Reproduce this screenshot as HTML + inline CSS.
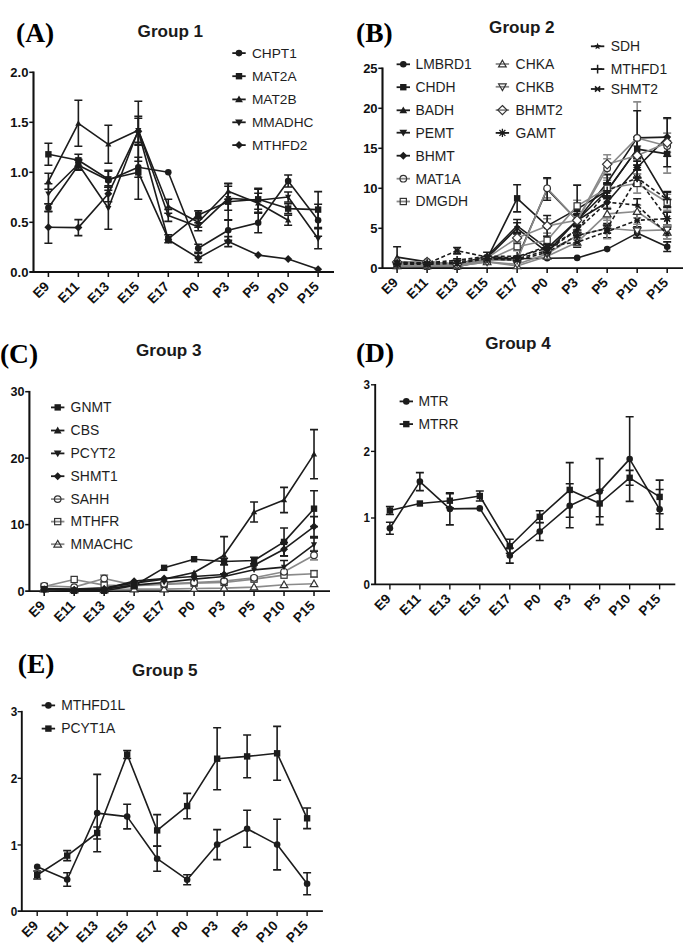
<!DOCTYPE html>
<html><head><meta charset="utf-8"><title>Figure</title>
<style>
html,body{margin:0;padding:0;background:#fff;}
body{width:685px;height:945px;overflow:hidden;font-family:"Liberation Sans",sans-serif;}
svg{display:block;}
</style></head><body>
<svg width="685" height="945" viewBox="0 0 685 945">
<rect width="685" height="945" fill="#fff"/>
<path d="M33.5 71.5L33.5 272" stroke="#111" stroke-width="2.1" fill="none"/>
<path d="M29.3 272L334 272" stroke="#111" stroke-width="1.8" fill="none"/>
<text x="28.4" y="276.7" font-family="'Liberation Sans', sans-serif" font-size="13" font-weight="bold" text-anchor="end" fill="#111">0.0</text>
<path d="M29.3 222.3L33.5 222.3" stroke="#111" stroke-width="1.53"/>
<text x="28.4" y="226.7" font-family="'Liberation Sans', sans-serif" font-size="13" font-weight="bold" text-anchor="end" fill="#111">0.5</text>
<path d="M29.3 172.3L33.5 172.3" stroke="#111" stroke-width="1.53"/>
<text x="28.4" y="176.7" font-family="'Liberation Sans', sans-serif" font-size="13" font-weight="bold" text-anchor="end" fill="#111">1.0</text>
<path d="M29.3 122.3L33.5 122.3" stroke="#111" stroke-width="1.53"/>
<text x="28.4" y="126.7" font-family="'Liberation Sans', sans-serif" font-size="13" font-weight="bold" text-anchor="end" fill="#111">1.5</text>
<path d="M29.3 72.3L33.5 72.3" stroke="#111" stroke-width="1.53"/>
<text x="28.4" y="76.7" font-family="'Liberation Sans', sans-serif" font-size="13" font-weight="bold" text-anchor="end" fill="#111">2.0</text>
<path d="M48.4 272L48.4 277" stroke="#111" stroke-width="1.53"/>
<text x="50.2" y="287.3" font-family="'Liberation Sans', sans-serif" font-size="13.6" font-weight="bold" text-anchor="end" fill="#111" transform="rotate(-45 50.2 287.3)">E9</text>
<path d="M78.37 272L78.37 277" stroke="#111" stroke-width="1.53"/>
<text x="80.17" y="287.3" font-family="'Liberation Sans', sans-serif" font-size="13.6" font-weight="bold" text-anchor="end" fill="#111" transform="rotate(-45 80.17 287.3)">E11</text>
<path d="M108.34 272L108.34 277" stroke="#111" stroke-width="1.53"/>
<text x="110.14" y="287.3" font-family="'Liberation Sans', sans-serif" font-size="13.6" font-weight="bold" text-anchor="end" fill="#111" transform="rotate(-45 110.14 287.3)">E13</text>
<path d="M138.31 272L138.31 277" stroke="#111" stroke-width="1.53"/>
<text x="140.11" y="287.3" font-family="'Liberation Sans', sans-serif" font-size="13.6" font-weight="bold" text-anchor="end" fill="#111" transform="rotate(-45 140.11 287.3)">E15</text>
<path d="M168.28 272L168.28 277" stroke="#111" stroke-width="1.53"/>
<text x="170.08" y="287.3" font-family="'Liberation Sans', sans-serif" font-size="13.6" font-weight="bold" text-anchor="end" fill="#111" transform="rotate(-45 170.08 287.3)">E17</text>
<path d="M198.25 272L198.25 277" stroke="#111" stroke-width="1.53"/>
<text x="200.05" y="287.3" font-family="'Liberation Sans', sans-serif" font-size="13.6" font-weight="bold" text-anchor="end" fill="#111" transform="rotate(-45 200.05 287.3)">P0</text>
<path d="M228.22 272L228.22 277" stroke="#111" stroke-width="1.53"/>
<text x="230.02" y="287.3" font-family="'Liberation Sans', sans-serif" font-size="13.6" font-weight="bold" text-anchor="end" fill="#111" transform="rotate(-45 230.02 287.3)">P3</text>
<path d="M258.19 272L258.19 277" stroke="#111" stroke-width="1.53"/>
<text x="259.99" y="287.3" font-family="'Liberation Sans', sans-serif" font-size="13.6" font-weight="bold" text-anchor="end" fill="#111" transform="rotate(-45 259.99 287.3)">P5</text>
<path d="M288.16 272L288.16 277" stroke="#111" stroke-width="1.53"/>
<text x="289.96" y="287.3" font-family="'Liberation Sans', sans-serif" font-size="13.6" font-weight="bold" text-anchor="end" fill="#111" transform="rotate(-45 289.96 287.3)">P10</text>
<path d="M318.13 272L318.13 277" stroke="#111" stroke-width="1.53"/>
<text x="319.93" y="287.3" font-family="'Liberation Sans', sans-serif" font-size="13.6" font-weight="bold" text-anchor="end" fill="#111" transform="rotate(-45 319.93 287.3)">P15</text>
<path d="M48.4 203.8L48.4 211.8M44.4 203.8L52.4 203.8M44.4 211.8L52.4 211.8" stroke="#1c1c1c" stroke-width="1.6" fill="none"/>
<path d="M78.37 160.3L78.37 170.3M74.37 160.3L82.37 160.3M74.37 170.3L82.37 170.3" stroke="#1c1c1c" stroke-width="1.6" fill="none"/>
<path d="M108.34 170.3L108.34 190.3M104.34 170.3L112.34 170.3M104.34 190.3L112.34 190.3" stroke="#1c1c1c" stroke-width="1.6" fill="none"/>
<path d="M138.31 157.3L138.31 177.3M134.31 157.3L142.31 157.3M134.31 177.3L142.31 177.3" stroke="#1c1c1c" stroke-width="1.6" fill="none"/>
<path d="M198.25 244.3L198.25 252.3M194.25 244.3L202.25 244.3M194.25 252.3L202.25 252.3" stroke="#1c1c1c" stroke-width="1.6" fill="none"/>
<path d="M228.22 220.3L228.22 240.3M224.22 220.3L232.22 220.3M224.22 240.3L232.22 240.3" stroke="#1c1c1c" stroke-width="1.6" fill="none"/>
<path d="M258.19 212.8L258.19 232.8M254.19 212.8L262.19 212.8M254.19 232.8L262.19 232.8" stroke="#1c1c1c" stroke-width="1.6" fill="none"/>
<path d="M288.16 175L288.16 187M284.16 175L292.16 175M284.16 187L292.16 187" stroke="#1c1c1c" stroke-width="1.6" fill="none"/>
<path d="M318.13 204.3L318.13 236.3M314.13 204.3L322.13 204.3M314.13 236.3L322.13 236.3" stroke="#1c1c1c" stroke-width="1.6" fill="none"/>
<path d="M48.4 143.3L48.4 165.3M44.4 143.3L52.4 143.3M44.4 165.3L52.4 165.3" stroke="#1c1c1c" stroke-width="1.6" fill="none"/>
<path d="M78.37 154.3L78.37 166.3M74.37 154.3L82.37 154.3M74.37 166.3L82.37 166.3" stroke="#1c1c1c" stroke-width="1.6" fill="none"/>
<path d="M108.34 171.3L108.34 187.3M104.34 171.3L112.34 171.3M104.34 187.3L112.34 187.3" stroke="#1c1c1c" stroke-width="1.6" fill="none"/>
<path d="M138.31 145.3L138.31 199.3M134.31 145.3L142.31 145.3M134.31 199.3L142.31 199.3" stroke="#1c1c1c" stroke-width="1.6" fill="none"/>
<path d="M168.28 234.8L168.28 242.8M164.28 234.8L172.28 234.8M164.28 242.8L172.28 242.8" stroke="#1c1c1c" stroke-width="1.6" fill="none"/>
<path d="M198.25 210.9L198.25 218.9M194.25 210.9L202.25 210.9M194.25 218.9L202.25 218.9" stroke="#1c1c1c" stroke-width="1.6" fill="none"/>
<path d="M228.22 183.7L228.22 219.7M224.22 183.7L232.22 183.7M224.22 219.7L232.22 219.7" stroke="#1c1c1c" stroke-width="1.6" fill="none"/>
<path d="M258.19 189.3L258.19 209.3M254.19 189.3L262.19 189.3M254.19 209.3L262.19 209.3" stroke="#1c1c1c" stroke-width="1.6" fill="none"/>
<path d="M288.16 203.6L288.16 213.6M284.16 203.6L292.16 203.6M284.16 213.6L292.16 213.6" stroke="#1c1c1c" stroke-width="1.6" fill="none"/>
<path d="M318.13 191.6L318.13 227.6M314.13 191.6L322.13 191.6M314.13 227.6L322.13 227.6" stroke="#1c1c1c" stroke-width="1.6" fill="none"/>
<path d="M48.4 173.3L48.4 189.3M44.4 173.3L52.4 173.3M44.4 189.3L52.4 189.3" stroke="#1c1c1c" stroke-width="1.6" fill="none"/>
<path d="M78.37 100.3L78.37 146.3M74.37 100.3L82.37 100.3M74.37 146.3L82.37 146.3" stroke="#1c1c1c" stroke-width="1.6" fill="none"/>
<path d="M108.34 125.3L108.34 163.3M104.34 125.3L112.34 125.3M104.34 163.3L112.34 163.3" stroke="#1c1c1c" stroke-width="1.6" fill="none"/>
<path d="M138.31 116.3L138.31 144.3M134.31 116.3L142.31 116.3M134.31 144.3L142.31 144.3" stroke="#1c1c1c" stroke-width="1.6" fill="none"/>
<path d="M168.28 199.3L168.28 213.3M164.28 199.3L172.28 199.3M164.28 213.3L172.28 213.3" stroke="#1c1c1c" stroke-width="1.6" fill="none"/>
<path d="M198.25 217.3L198.25 227.3M194.25 217.3L202.25 217.3M194.25 227.3L202.25 227.3" stroke="#1c1c1c" stroke-width="1.6" fill="none"/>
<path d="M228.22 183.3L228.22 199.3M224.22 183.3L232.22 183.3M224.22 199.3L232.22 199.3" stroke="#1c1c1c" stroke-width="1.6" fill="none"/>
<path d="M258.19 193.3L258.19 213.3M254.19 193.3L262.19 193.3M254.19 213.3L262.19 213.3" stroke="#1c1c1c" stroke-width="1.6" fill="none"/>
<path d="M288.16 215.3L288.16 225.3M284.16 215.3L292.16 215.3M284.16 225.3L292.16 225.3" stroke="#1c1c1c" stroke-width="1.6" fill="none"/>
<path d="M48.4 183.7L48.4 203.7M44.4 183.7L52.4 183.7M44.4 203.7L52.4 203.7" stroke="#1c1c1c" stroke-width="1.6" fill="none"/>
<path d="M78.37 159.3L78.37 169.3M74.37 159.3L82.37 159.3M74.37 169.3L82.37 169.3" stroke="#1c1c1c" stroke-width="1.6" fill="none"/>
<path d="M108.34 187.3L108.34 229.3M104.34 187.3L112.34 187.3M104.34 229.3L112.34 229.3" stroke="#1c1c1c" stroke-width="1.6" fill="none"/>
<path d="M138.31 118.3L138.31 142.3M134.31 118.3L142.31 118.3M134.31 142.3L142.31 142.3" stroke="#1c1c1c" stroke-width="1.6" fill="none"/>
<path d="M168.28 209.4L168.28 221.4M164.28 209.4L172.28 209.4M164.28 221.4L172.28 221.4" stroke="#1c1c1c" stroke-width="1.6" fill="none"/>
<path d="M198.25 222.7L198.25 230.7M194.25 222.7L202.25 222.7M194.25 230.7L202.25 230.7" stroke="#1c1c1c" stroke-width="1.6" fill="none"/>
<path d="M228.22 186.3L228.22 210.3M224.22 186.3L232.22 186.3M224.22 210.3L232.22 210.3" stroke="#1c1c1c" stroke-width="1.6" fill="none"/>
<path d="M258.19 188.3L258.19 212.3M254.19 188.3L262.19 188.3M254.19 212.3L262.19 212.3" stroke="#1c1c1c" stroke-width="1.6" fill="none"/>
<path d="M288.16 192L288.16 202M284.16 192L292.16 192M284.16 202L292.16 202" stroke="#1c1c1c" stroke-width="1.6" fill="none"/>
<path d="M318.13 228.8L318.13 248.8M314.13 228.8L322.13 228.8M314.13 248.8L322.13 248.8" stroke="#1c1c1c" stroke-width="1.6" fill="none"/>
<path d="M48.4 211.3L48.4 243.3M44.4 211.3L52.4 211.3M44.4 243.3L52.4 243.3" stroke="#1c1c1c" stroke-width="1.6" fill="none"/>
<path d="M78.37 219.6L78.37 235.6M74.37 219.6L82.37 219.6M74.37 235.6L82.37 235.6" stroke="#1c1c1c" stroke-width="1.6" fill="none"/>
<path d="M108.34 185.7L108.34 201.7M104.34 185.7L112.34 185.7M104.34 201.7L112.34 201.7" stroke="#1c1c1c" stroke-width="1.6" fill="none"/>
<path d="M138.31 101.3L138.31 161.3M134.31 101.3L142.31 101.3M134.31 161.3L142.31 161.3" stroke="#1c1c1c" stroke-width="1.6" fill="none"/>
<path d="M198.25 253.5L198.25 262.5M194.25 253.5L202.25 253.5M194.25 262.5L202.25 262.5" stroke="#1c1c1c" stroke-width="1.6" fill="none"/>
<path d="M228.22 236.6L228.22 246.6M224.22 236.6L232.22 236.6M224.22 246.6L232.22 246.6" stroke="#1c1c1c" stroke-width="1.6" fill="none"/>
<path d="M48.4 207.8L78.37 165.3L108.34 180.3L138.31 167.3L168.28 172.3L198.25 248.3L228.22 230.3L258.19 222.8L288.16 181L318.13 220.3" stroke="#1c1c1c" stroke-width="1.6" fill="none" stroke-linejoin="round"/>
<path d="M48.4 154.3L78.37 160.3L108.34 179.3L138.31 172.3L168.28 238.8L198.25 214.9L228.22 201.7L258.19 199.3L288.16 208.6L318.13 209.6" stroke="#1c1c1c" stroke-width="1.6" fill="none" stroke-linejoin="round"/>
<path d="M48.4 181.3L78.37 123.3L108.34 144.3L138.31 130.3L168.28 206.3L198.25 222.3L228.22 191.3L258.19 203.3L288.16 220.3" stroke="#1c1c1c" stroke-width="1.6" fill="none" stroke-linejoin="round"/>
<path d="M48.4 193.7L78.37 164.3L108.34 208.3L138.31 130.3L168.28 215.4L198.25 226.7L228.22 198.3L258.19 200.3L288.16 197L318.13 238.8" stroke="#1c1c1c" stroke-width="1.6" fill="none" stroke-linejoin="round"/>
<path d="M48.4 227.3L78.37 227.6L108.34 193.7L138.31 131.3L168.28 239.8L198.25 258L228.22 241.6L258.19 255.1L288.16 259L318.13 269.3" stroke="#1c1c1c" stroke-width="1.6" fill="none" stroke-linejoin="round"/>
<circle cx="48.4" cy="207.8" r="3.3" fill="#1c1c1c"/>
<circle cx="78.37" cy="165.3" r="3.3" fill="#1c1c1c"/>
<circle cx="108.34" cy="180.3" r="3.3" fill="#1c1c1c"/>
<circle cx="138.31" cy="167.3" r="3.3" fill="#1c1c1c"/>
<circle cx="168.28" cy="172.3" r="3.3" fill="#1c1c1c"/>
<circle cx="198.25" cy="248.3" r="3.3" fill="#1c1c1c"/>
<circle cx="228.22" cy="230.3" r="3.3" fill="#1c1c1c"/>
<circle cx="258.19" cy="222.8" r="3.3" fill="#1c1c1c"/>
<circle cx="288.16" cy="181" r="3.3" fill="#1c1c1c"/>
<circle cx="318.13" cy="220.3" r="3.3" fill="#1c1c1c"/>
<rect x="45.2" y="151.1" width="6.4" height="6.4" fill="#1c1c1c"/>
<rect x="75.17" y="157.1" width="6.4" height="6.4" fill="#1c1c1c"/>
<rect x="105.14" y="176.1" width="6.4" height="6.4" fill="#1c1c1c"/>
<rect x="135.11" y="169.1" width="6.4" height="6.4" fill="#1c1c1c"/>
<rect x="165.08" y="235.6" width="6.4" height="6.4" fill="#1c1c1c"/>
<rect x="195.05" y="211.7" width="6.4" height="6.4" fill="#1c1c1c"/>
<rect x="225.02" y="198.5" width="6.4" height="6.4" fill="#1c1c1c"/>
<rect x="254.99" y="196.1" width="6.4" height="6.4" fill="#1c1c1c"/>
<rect x="284.96" y="205.4" width="6.4" height="6.4" fill="#1c1c1c"/>
<rect x="314.93" y="206.4" width="6.4" height="6.4" fill="#1c1c1c"/>
<path d="M48.4 178.2L51.5 183.62L45.3 183.62Z" fill="#1c1c1c"/>
<path d="M78.37 120.2L81.47 125.63L75.27 125.63Z" fill="#1c1c1c"/>
<path d="M108.34 141.2L111.44 146.62L105.24 146.62Z" fill="#1c1c1c"/>
<path d="M138.31 127.2L141.41 132.62L135.21 132.62Z" fill="#1c1c1c"/>
<path d="M168.28 203.2L171.38 208.62L165.18 208.62Z" fill="#1c1c1c"/>
<path d="M198.25 219.2L201.35 224.62L195.15 224.62Z" fill="#1c1c1c"/>
<path d="M228.22 188.2L231.32 193.62L225.12 193.62Z" fill="#1c1c1c"/>
<path d="M258.19 200.2L261.29 205.62L255.09 205.62Z" fill="#1c1c1c"/>
<path d="M288.16 217.2L291.26 222.62L285.06 222.62Z" fill="#1c1c1c"/>
<path d="M48.4 196.8L51.5 191.38L45.3 191.38Z" fill="#1c1c1c"/>
<path d="M78.37 167.4L81.47 161.98L75.27 161.98Z" fill="#1c1c1c"/>
<path d="M108.34 211.4L111.44 205.98L105.24 205.98Z" fill="#1c1c1c"/>
<path d="M138.31 133.4L141.41 127.98L135.21 127.98Z" fill="#1c1c1c"/>
<path d="M168.28 218.5L171.38 213.08L165.18 213.08Z" fill="#1c1c1c"/>
<path d="M198.25 229.8L201.35 224.38L195.15 224.38Z" fill="#1c1c1c"/>
<path d="M228.22 201.4L231.32 195.98L225.12 195.98Z" fill="#1c1c1c"/>
<path d="M258.19 203.4L261.29 197.98L255.09 197.98Z" fill="#1c1c1c"/>
<path d="M288.16 200.1L291.26 194.68L285.06 194.68Z" fill="#1c1c1c"/>
<path d="M318.13 241.9L321.23 236.48L315.03 236.48Z" fill="#1c1c1c"/>
<path d="M48.4 223.3L52.4 227.3L48.4 231.3L44.4 227.3Z" fill="#1c1c1c"/>
<path d="M78.37 223.6L82.37 227.6L78.37 231.6L74.37 227.6Z" fill="#1c1c1c"/>
<path d="M108.34 189.7L112.34 193.7L108.34 197.7L104.34 193.7Z" fill="#1c1c1c"/>
<path d="M138.31 127.3L142.31 131.3L138.31 135.3L134.31 131.3Z" fill="#1c1c1c"/>
<path d="M168.28 235.8L172.28 239.8L168.28 243.8L164.28 239.8Z" fill="#1c1c1c"/>
<path d="M198.25 254L202.25 258L198.25 262L194.25 258Z" fill="#1c1c1c"/>
<path d="M228.22 237.6L232.22 241.6L228.22 245.6L224.22 241.6Z" fill="#1c1c1c"/>
<path d="M258.19 251.1L262.19 255.1L258.19 259.1L254.19 255.1Z" fill="#1c1c1c"/>
<path d="M288.16 255L292.16 259L288.16 263L284.16 259Z" fill="#1c1c1c"/>
<path d="M318.13 265.3L322.13 269.3L318.13 273.3L314.13 269.3Z" fill="#1c1c1c"/>
<path d="M232.3 53.1L245.7 53.1" stroke="#1c1c1c" stroke-width="1.8"/>
<circle cx="239" cy="53.1" r="3.3" fill="#1c1c1c"/>
<text x="251.9" y="57.9" font-family="'Liberation Sans', sans-serif" font-size="13.7" font-weight="normal" text-anchor="start" fill="#1e1e1e">CHPT1</text>
<path d="M232.3 76.2L245.7 76.2" stroke="#1c1c1c" stroke-width="1.8"/>
<rect x="235.8" y="73" width="6.4" height="6.4" fill="#1c1c1c"/>
<text x="251.9" y="81" font-family="'Liberation Sans', sans-serif" font-size="13.7" font-weight="normal" text-anchor="start" fill="#1e1e1e">MAT2A</text>
<path d="M232.3 99.4L245.7 99.4" stroke="#1c1c1c" stroke-width="1.8"/>
<path d="M239 95.53L242.88 102.31L235.12 102.31Z" fill="#1c1c1c"/>
<text x="251.9" y="104.2" font-family="'Liberation Sans', sans-serif" font-size="13.7" font-weight="normal" text-anchor="start" fill="#1e1e1e">MAT2B</text>
<path d="M232.3 122.3L245.7 122.3" stroke="#1c1c1c" stroke-width="1.8"/>
<path d="M239 126.17L242.88 119.39L235.12 119.39Z" fill="#1c1c1c"/>
<text x="251.9" y="127.1" font-family="'Liberation Sans', sans-serif" font-size="13.7" font-weight="normal" text-anchor="start" fill="#1e1e1e">MMADHC</text>
<path d="M232.3 145.1L245.7 145.1" stroke="#1c1c1c" stroke-width="1.8"/>
<path d="M239 141.1L243 145.1L239 149.1L235 145.1Z" fill="#1c1c1c"/>
<text x="251.9" y="149.9" font-family="'Liberation Sans', sans-serif" font-size="13.7" font-weight="normal" text-anchor="start" fill="#1e1e1e">MTHFD2</text>
<text x="137.6" y="37.2" font-family="'Liberation Sans', sans-serif" font-size="17.1" font-weight="bold" text-anchor="start" fill="#1a1a1a">Group 1</text>
<text x="16" y="41.6" font-family="'Liberation Serif', serif" font-size="27.5" font-weight="bold" text-anchor="start" fill="#000">(A)</text>
<path d="M382.5 67.5L382.5 268.1" stroke="#111" stroke-width="2.1" fill="none"/>
<path d="M378.3 268.1L683 268.1" stroke="#111" stroke-width="1.8" fill="none"/>
<text x="377.6" y="272.7" font-family="'Liberation Sans', sans-serif" font-size="13" font-weight="bold" text-anchor="end" fill="#111">0</text>
<path d="M378.3 228.3L382.5 228.3" stroke="#111" stroke-width="1.53"/>
<text x="377.6" y="232.7" font-family="'Liberation Sans', sans-serif" font-size="13" font-weight="bold" text-anchor="end" fill="#111">5</text>
<path d="M378.3 188.3L382.5 188.3" stroke="#111" stroke-width="1.53"/>
<text x="377.6" y="192.7" font-family="'Liberation Sans', sans-serif" font-size="13" font-weight="bold" text-anchor="end" fill="#111">10</text>
<path d="M378.3 148.3L382.5 148.3" stroke="#111" stroke-width="1.53"/>
<text x="377.6" y="152.7" font-family="'Liberation Sans', sans-serif" font-size="13" font-weight="bold" text-anchor="end" fill="#111">15</text>
<path d="M378.3 108.3L382.5 108.3" stroke="#111" stroke-width="1.53"/>
<text x="377.6" y="112.7" font-family="'Liberation Sans', sans-serif" font-size="13" font-weight="bold" text-anchor="end" fill="#111">20</text>
<path d="M378.3 68.3L382.5 68.3" stroke="#111" stroke-width="1.53"/>
<text x="377.6" y="72.7" font-family="'Liberation Sans', sans-serif" font-size="13" font-weight="bold" text-anchor="end" fill="#111">25</text>
<path d="M397.1 268.1L397.1 273.1" stroke="#111" stroke-width="1.53"/>
<text x="398.9" y="283.4" font-family="'Liberation Sans', sans-serif" font-size="13.6" font-weight="bold" text-anchor="end" fill="#111" transform="rotate(-45 398.9 283.4)">E9</text>
<path d="M427.11 268.1L427.11 273.1" stroke="#111" stroke-width="1.53"/>
<text x="428.91" y="283.4" font-family="'Liberation Sans', sans-serif" font-size="13.6" font-weight="bold" text-anchor="end" fill="#111" transform="rotate(-45 428.91 283.4)">E11</text>
<path d="M457.12 268.1L457.12 273.1" stroke="#111" stroke-width="1.53"/>
<text x="458.92" y="283.4" font-family="'Liberation Sans', sans-serif" font-size="13.6" font-weight="bold" text-anchor="end" fill="#111" transform="rotate(-45 458.92 283.4)">E13</text>
<path d="M487.13 268.1L487.13 273.1" stroke="#111" stroke-width="1.53"/>
<text x="488.93" y="283.4" font-family="'Liberation Sans', sans-serif" font-size="13.6" font-weight="bold" text-anchor="end" fill="#111" transform="rotate(-45 488.93 283.4)">E15</text>
<path d="M517.14 268.1L517.14 273.1" stroke="#111" stroke-width="1.53"/>
<text x="518.94" y="283.4" font-family="'Liberation Sans', sans-serif" font-size="13.6" font-weight="bold" text-anchor="end" fill="#111" transform="rotate(-45 518.94 283.4)">E17</text>
<path d="M547.15 268.1L547.15 273.1" stroke="#111" stroke-width="1.53"/>
<text x="548.95" y="283.4" font-family="'Liberation Sans', sans-serif" font-size="13.6" font-weight="bold" text-anchor="end" fill="#111" transform="rotate(-45 548.95 283.4)">P0</text>
<path d="M577.16 268.1L577.16 273.1" stroke="#111" stroke-width="1.53"/>
<text x="578.96" y="283.4" font-family="'Liberation Sans', sans-serif" font-size="13.6" font-weight="bold" text-anchor="end" fill="#111" transform="rotate(-45 578.96 283.4)">P3</text>
<path d="M607.17 268.1L607.17 273.1" stroke="#111" stroke-width="1.53"/>
<text x="608.97" y="283.4" font-family="'Liberation Sans', sans-serif" font-size="13.6" font-weight="bold" text-anchor="end" fill="#111" transform="rotate(-45 608.97 283.4)">P5</text>
<path d="M637.18 268.1L637.18 273.1" stroke="#111" stroke-width="1.53"/>
<text x="638.98" y="283.4" font-family="'Liberation Sans', sans-serif" font-size="13.6" font-weight="bold" text-anchor="end" fill="#111" transform="rotate(-45 638.98 283.4)">P10</text>
<path d="M667.19 268.1L667.19 273.1" stroke="#111" stroke-width="1.53"/>
<text x="668.99" y="283.4" font-family="'Liberation Sans', sans-serif" font-size="13.6" font-weight="bold" text-anchor="end" fill="#111" transform="rotate(-45 668.99 283.4)">P15</text>
<path d="M667.19 212.3L667.19 225.1M663.19 212.3L671.19 212.3M663.19 225.1L671.19 225.1" stroke="#1c1c1c" stroke-width="1.6" fill="none"/>
<path d="M637.18 213.9L637.18 226.7M633.18 213.9L641.18 213.9M633.18 226.7L641.18 226.7" stroke="#1c1c1c" stroke-width="1.6" fill="none"/>
<path d="M607.17 225.1L607.17 237.9M603.17 225.1L611.17 225.1M603.17 237.9L611.17 237.9" stroke="#1c1c1c" stroke-width="1.6" fill="none"/>
<path d="M577.16 237.5L577.16 247.1M573.16 237.5L581.16 237.5M573.16 247.1L581.16 247.1" stroke="#1c1c1c" stroke-width="1.6" fill="none"/>
<path d="M457.12 247.5L457.12 253.9M453.12 247.5L461.12 247.5M453.12 253.9L461.12 253.9" stroke="#1c1c1c" stroke-width="1.6" fill="none"/>
<path d="M667.19 192.3L667.19 206.7M663.19 192.3L671.19 192.3M663.19 206.7L671.19 206.7" stroke="#1c1c1c" stroke-width="1.6" fill="none"/>
<path d="M637.18 169.9L637.18 185.9M633.18 169.9L641.18 169.9M633.18 185.9L641.18 185.9" stroke="#1c1c1c" stroke-width="1.6" fill="none"/>
<path d="M607.17 183.5L607.17 197.9M603.17 183.5L611.17 183.5M603.17 197.9L611.17 197.9" stroke="#1c1c1c" stroke-width="1.6" fill="none"/>
<path d="M577.16 225.1L577.16 234.7M573.16 225.1L581.16 225.1M573.16 234.7L581.16 234.7" stroke="#1c1c1c" stroke-width="1.6" fill="none"/>
<path d="M667.19 229.1L667.19 238.7M663.19 229.1L671.19 229.1M663.19 238.7L671.19 238.7" stroke="#1c1c1c" stroke-width="1.6" fill="none"/>
<path d="M637.18 198.7L637.18 211.5M633.18 198.7L641.18 198.7M633.18 211.5L641.18 211.5" stroke="#1c1c1c" stroke-width="1.6" fill="none"/>
<path d="M607.17 195.9L607.17 208.7M603.17 195.9L611.17 195.9M603.17 208.7L611.17 208.7" stroke="#1c1c1c" stroke-width="1.6" fill="none"/>
<path d="M577.16 225.9L577.16 233.9M573.16 225.9L581.16 225.9M573.16 233.9L581.16 233.9" stroke="#1c1c1c" stroke-width="1.6" fill="none"/>
<path d="M547.15 247.5L547.15 253.9M543.15 247.5L551.15 247.5M543.15 253.9L551.15 253.9" stroke="#1c1c1c" stroke-width="1.6" fill="none"/>
<path d="M457.12 258.7L457.12 265.1M453.12 258.7L461.12 258.7M453.12 265.1L461.12 265.1" stroke="#1c1c1c" stroke-width="1.6" fill="none"/>
<path d="M667.19 212.3L667.19 225.1M663.19 212.3L671.19 212.3M663.19 225.1L671.19 225.1" stroke="#1c1c1c" stroke-width="1.6" fill="none"/>
<path d="M637.18 169.9L637.18 185.9M633.18 169.9L641.18 169.9M633.18 185.9L641.18 185.9" stroke="#1c1c1c" stroke-width="1.6" fill="none"/>
<path d="M607.17 223.5L607.17 233.1M603.17 223.5L611.17 223.5M603.17 233.1L611.17 233.1" stroke="#1c1c1c" stroke-width="1.6" fill="none"/>
<path d="M577.16 231.5L577.16 239.5M573.16 231.5L581.16 231.5M573.16 239.5L581.16 239.5" stroke="#1c1c1c" stroke-width="1.6" fill="none"/>
<path d="M667.19 133.1L667.19 152.3M663.19 133.1L671.19 133.1M663.19 152.3L671.19 152.3" stroke="#8a8a8a" stroke-width="1.6" fill="none"/>
<path d="M637.18 145.9L637.18 165.1M633.18 145.9L641.18 145.9M633.18 165.1L641.18 165.1" stroke="#8a8a8a" stroke-width="1.6" fill="none"/>
<path d="M607.17 154.7L607.17 173.9M603.17 154.7L611.17 154.7M603.17 173.9L611.17 173.9" stroke="#8a8a8a" stroke-width="1.6" fill="none"/>
<path d="M577.16 214.7L577.16 225.9M573.16 214.7L581.16 214.7M573.16 225.9L581.16 225.9" stroke="#8a8a8a" stroke-width="1.6" fill="none"/>
<path d="M547.15 218.7L547.15 233.1M543.15 218.7L551.15 218.7M543.15 233.1L551.15 233.1" stroke="#8a8a8a" stroke-width="1.6" fill="none"/>
<path d="M517.14 233.9L517.14 241.9M513.14 233.9L521.14 233.9M513.14 241.9L521.14 241.9" stroke="#8a8a8a" stroke-width="1.6" fill="none"/>
<path d="M667.19 225.1L667.19 234.7M663.19 225.1L671.19 225.1M663.19 234.7L671.19 234.7" stroke="#8a8a8a" stroke-width="1.6" fill="none"/>
<path d="M637.18 224.3L637.18 237.1M633.18 224.3L641.18 224.3M633.18 237.1L641.18 237.1" stroke="#8a8a8a" stroke-width="1.6" fill="none"/>
<path d="M607.17 217.9L607.17 238.7M603.17 217.9L611.17 217.9M603.17 238.7L611.17 238.7" stroke="#8a8a8a" stroke-width="1.6" fill="none"/>
<path d="M577.16 231.5L577.16 239.5M573.16 231.5L581.16 231.5M573.16 239.5L581.16 239.5" stroke="#8a8a8a" stroke-width="1.6" fill="none"/>
<path d="M667.19 225.9L667.19 238.7M663.19 225.9L671.19 225.9M663.19 238.7L671.19 238.7" stroke="#8a8a8a" stroke-width="1.6" fill="none"/>
<path d="M637.18 205.1L637.18 217.9M633.18 205.1L641.18 205.1M633.18 217.9L641.18 217.9" stroke="#8a8a8a" stroke-width="1.6" fill="none"/>
<path d="M607.17 207.5L607.17 220.3M603.17 207.5L611.17 207.5M603.17 220.3L611.17 220.3" stroke="#8a8a8a" stroke-width="1.6" fill="none"/>
<path d="M577.16 238.3L577.16 246.3M573.16 238.3L581.16 238.3M573.16 246.3L581.16 246.3" stroke="#8a8a8a" stroke-width="1.6" fill="none"/>
<path d="M667.19 194.3L667.19 210.3M663.19 194.3L671.19 194.3M663.19 210.3L671.19 210.3" stroke="#8a8a8a" stroke-width="1.6" fill="none"/>
<path d="M637.18 173.9L637.18 193.1M633.18 173.9L641.18 173.9M633.18 193.1L641.18 193.1" stroke="#8a8a8a" stroke-width="1.6" fill="none"/>
<path d="M607.17 180.3L607.17 196.3M603.17 180.3L611.17 180.3M603.17 196.3L611.17 196.3" stroke="#8a8a8a" stroke-width="1.6" fill="none"/>
<path d="M577.16 200.3L577.16 211.5M573.16 200.3L581.16 200.3M573.16 211.5L581.16 211.5" stroke="#8a8a8a" stroke-width="1.6" fill="none"/>
<path d="M547.15 236.3L547.15 244.3M543.15 236.3L551.15 236.3M543.15 244.3L551.15 244.3" stroke="#8a8a8a" stroke-width="1.6" fill="none"/>
<path d="M517.14 242.7L517.14 250.7M513.14 242.7L521.14 242.7M513.14 250.7L521.14 250.7" stroke="#8a8a8a" stroke-width="1.6" fill="none"/>
<path d="M667.19 118.7L667.19 173.1M663.19 118.7L671.19 118.7M663.19 173.1L671.19 173.1" stroke="#8a8a8a" stroke-width="1.6" fill="none"/>
<path d="M637.18 101.9L637.18 173.9M633.18 101.9L641.18 101.9M633.18 173.9L641.18 173.9" stroke="#8a8a8a" stroke-width="1.6" fill="none"/>
<path d="M607.17 158.7L607.17 177.9M603.17 158.7L611.17 158.7M603.17 177.9L611.17 177.9" stroke="#8a8a8a" stroke-width="1.6" fill="none"/>
<path d="M577.16 215.5L577.16 225.1M573.16 215.5L581.16 215.5M573.16 225.1L581.16 225.1" stroke="#8a8a8a" stroke-width="1.6" fill="none"/>
<path d="M547.15 178.7L547.15 197.9M543.15 178.7L551.15 178.7M543.15 197.9L551.15 197.9" stroke="#8a8a8a" stroke-width="1.6" fill="none"/>
<path d="M637.18 157.9L637.18 177.1M633.18 157.9L641.18 157.9M633.18 177.1L641.18 177.1" stroke="#1c1c1c" stroke-width="1.6" fill="none"/>
<path d="M607.17 195.9L607.17 208.7M603.17 195.9L611.17 195.9M603.17 208.7L611.17 208.7" stroke="#1c1c1c" stroke-width="1.6" fill="none"/>
<path d="M577.16 215.5L577.16 225.1M573.16 215.5L581.16 215.5M573.16 225.1L581.16 225.1" stroke="#1c1c1c" stroke-width="1.6" fill="none"/>
<path d="M547.15 177.9L547.15 200.3M543.15 177.9L551.15 177.9M543.15 200.3L551.15 200.3" stroke="#1c1c1c" stroke-width="1.6" fill="none"/>
<path d="M667.19 191.5L667.19 207.5M663.19 191.5L671.19 191.5M663.19 207.5L671.19 207.5" stroke="#1c1c1c" stroke-width="1.6" fill="none"/>
<path d="M637.18 139.5L637.18 158.7M633.18 139.5L641.18 139.5M633.18 158.7L641.18 158.7" stroke="#1c1c1c" stroke-width="1.6" fill="none"/>
<path d="M607.17 184.3L607.17 197.1M603.17 184.3L611.17 184.3M603.17 197.1L611.17 197.1" stroke="#1c1c1c" stroke-width="1.6" fill="none"/>
<path d="M577.16 214.7L577.16 225.9M573.16 214.7L581.16 214.7M573.16 225.9L581.16 225.9" stroke="#1c1c1c" stroke-width="1.6" fill="none"/>
<path d="M517.14 222.7L517.14 233.9M513.14 222.7L521.14 222.7M513.14 233.9L521.14 233.9" stroke="#1c1c1c" stroke-width="1.6" fill="none"/>
<path d="M667.19 117.9L667.19 156.3M663.19 117.9L671.19 117.9M663.19 156.3L671.19 156.3" stroke="#1c1c1c" stroke-width="1.6" fill="none"/>
<path d="M637.18 110.7L637.18 165.1M633.18 110.7L641.18 110.7M633.18 165.1L641.18 165.1" stroke="#1c1c1c" stroke-width="1.6" fill="none"/>
<path d="M607.17 174.7L607.17 190.7M603.17 174.7L611.17 174.7M603.17 190.7L611.17 190.7" stroke="#1c1c1c" stroke-width="1.6" fill="none"/>
<path d="M577.16 213.9L577.16 226.7M573.16 213.9L581.16 213.9M573.16 226.7L581.16 226.7" stroke="#1c1c1c" stroke-width="1.6" fill="none"/>
<path d="M547.15 244.3L547.15 252.3M543.15 244.3L551.15 244.3M543.15 252.3L551.15 252.3" stroke="#1c1c1c" stroke-width="1.6" fill="none"/>
<path d="M517.14 219.5L517.14 232.3M513.14 219.5L521.14 219.5M513.14 232.3L521.14 232.3" stroke="#1c1c1c" stroke-width="1.6" fill="none"/>
<path d="M487.13 252.3L487.13 260.3M483.13 252.3L491.13 252.3M483.13 260.3L491.13 260.3" stroke="#1c1c1c" stroke-width="1.6" fill="none"/>
<path d="M397.1 246.7L397.1 267.5M393.1 246.7L401.1 246.7M393.1 267.5L401.1 267.5" stroke="#1c1c1c" stroke-width="1.6" fill="none"/>
<path d="M667.19 141.1L667.19 166.7M663.19 141.1L671.19 141.1M663.19 166.7L671.19 166.7" stroke="#1c1c1c" stroke-width="1.6" fill="none"/>
<path d="M637.18 137.1L637.18 161.1M633.18 137.1L641.18 137.1M633.18 161.1L641.18 161.1" stroke="#1c1c1c" stroke-width="1.6" fill="none"/>
<path d="M607.17 182.7L607.17 198.7M603.17 182.7L611.17 182.7M603.17 198.7L611.17 198.7" stroke="#1c1c1c" stroke-width="1.6" fill="none"/>
<path d="M577.16 185.1L577.16 233.1M573.16 185.1L581.16 185.1M573.16 233.1L581.16 233.1" stroke="#1c1c1c" stroke-width="1.6" fill="none"/>
<path d="M547.15 215.5L547.15 236.3M543.15 215.5L551.15 215.5M543.15 236.3L551.15 236.3" stroke="#1c1c1c" stroke-width="1.6" fill="none"/>
<path d="M517.14 184.7L517.14 211.9M513.14 184.7L521.14 184.7M513.14 211.9L521.14 211.9" stroke="#1c1c1c" stroke-width="1.6" fill="none"/>
<path d="M667.19 241.9L667.19 251.5M663.19 241.9L671.19 241.9M663.19 251.5L671.19 251.5" stroke="#1c1c1c" stroke-width="1.6" fill="none"/>
<path d="M637.18 228.3L637.18 237.9M633.18 228.3L641.18 228.3M633.18 237.9L641.18 237.9" stroke="#1c1c1c" stroke-width="1.6" fill="none"/>
<path d="M397.1 264.3L427.11 265.9L457.12 266.7L487.13 260.3L517.14 258.7L547.15 258.3L577.16 257.9L607.17 249.1L637.18 233.1L667.19 246.7" stroke="#1c1c1c" stroke-width="1.6" fill="none" stroke-linejoin="round"/>
<path d="M397.1 265.9L427.11 266.7L457.12 266.7L487.13 258.7L517.14 198.3L547.15 225.9L577.16 209.1L607.17 190.7L637.18 149.1L667.19 153.9" stroke="#1c1c1c" stroke-width="1.6" fill="none" stroke-linejoin="round"/>
<path d="M397.1 257.1L427.11 261.9L457.12 264.3L487.13 256.3L517.14 225.9L547.15 248.3L577.16 220.3L607.17 182.7L637.18 137.9L667.19 137.1" stroke="#1c1c1c" stroke-width="1.6" fill="none" stroke-linejoin="round"/>
<path d="M397.1 261.9L427.11 264.3L457.12 265.9L487.13 257.9L517.14 228.3L547.15 252.3L577.16 220.3L607.17 190.7L637.18 149.1L667.19 199.5" stroke="#1c1c1c" stroke-width="1.6" fill="none" stroke-linejoin="round"/>
<path d="M397.1 263.5L427.11 265.1L457.12 265.9L487.13 257.9L517.14 258.7L547.15 189.1L577.16 220.3L607.17 202.3L637.18 167.5L667.19 137.1" stroke="#1c1c1c" stroke-width="1.6" fill="none" stroke-linejoin="round"/>
<path d="M397.1 264.3L427.11 261.9L457.12 265.1L487.13 260.3L517.14 260.3L547.15 188.3L577.16 220.3L607.17 168.3L637.18 137.9L667.19 145.9" stroke="#8a8a8a" stroke-width="1.6" fill="none" stroke-linejoin="round"/>
<path d="M397.1 264.3L427.11 264.3L457.12 264.3L487.13 260.3L517.14 246.7L547.15 240.3L577.16 205.9L607.17 188.3L637.18 183.5L667.19 202.3" stroke="#8a8a8a" stroke-width="1.6" fill="none" stroke-linejoin="round"/>
<path d="M397.1 265.9L427.11 265.9L457.12 265.9L487.13 261.9L517.14 265.9L547.15 256.3L577.16 242.3L607.17 213.9L637.18 211.5L667.19 232.3" stroke="#8a8a8a" stroke-width="1.6" fill="none" stroke-linejoin="round"/>
<path d="M397.1 265.9L427.11 265.9L457.12 265.9L487.13 261.9L517.14 264.3L547.15 253.9L577.16 235.5L607.17 228.3L637.18 230.7L667.19 229.9" stroke="#8a8a8a" stroke-width="1.6" fill="none" stroke-linejoin="round"/>
<path d="M397.1 261.9L427.11 261.9L457.12 264.3L487.13 257.9L517.14 237.9L547.15 225.9L577.16 220.3L607.17 164.3L637.18 155.5L667.19 142.7" stroke="#8a8a8a" stroke-width="1.6" fill="none" stroke-linejoin="round"/>
<path d="M397.1 264.3L427.11 264.3L457.12 263.5L487.13 258.7L517.14 260.3L547.15 252.3L577.16 235.5L607.17 228.3L637.18 177.9L667.19 218.7" stroke="#1c1c1c" stroke-width="1.6" fill="none" stroke-linejoin="round" stroke-dasharray="4 2.5"/>
<path d="M397.1 261.9L427.11 263.5L457.12 261.9L487.13 257.9L517.14 258.7L547.15 250.7L577.16 229.9L607.17 202.3L637.18 205.1L667.19 233.9" stroke="#1c1c1c" stroke-width="1.6" fill="none" stroke-linejoin="round" stroke-dasharray="4 2.5"/>
<path d="M397.1 263.5L427.11 262.7L457.12 260.3L487.13 256.3L517.14 256.3L547.15 248.3L577.16 229.9L607.17 190.7L637.18 177.9L667.19 199.5" stroke="#1c1c1c" stroke-width="1.6" fill="none" stroke-linejoin="round" stroke-dasharray="4 2.5"/>
<path d="M397.1 262.7L427.11 263.5L457.12 250.7L487.13 257.1L517.14 257.9L547.15 245.9L577.16 242.3L607.17 231.5L637.18 220.3L667.19 218.7" stroke="#1c1c1c" stroke-width="1.6" fill="none" stroke-linejoin="round" stroke-dasharray="4 2.5"/>
<circle cx="397.1" cy="264.3" r="3.3" fill="#1c1c1c"/>
<circle cx="427.11" cy="265.9" r="3.3" fill="#1c1c1c"/>
<circle cx="457.12" cy="266.7" r="3.3" fill="#1c1c1c"/>
<circle cx="487.13" cy="260.3" r="3.3" fill="#1c1c1c"/>
<circle cx="517.14" cy="258.7" r="3.3" fill="#1c1c1c"/>
<circle cx="547.15" cy="258.3" r="3.3" fill="#1c1c1c"/>
<circle cx="577.16" cy="257.9" r="3.3" fill="#1c1c1c"/>
<circle cx="607.17" cy="249.1" r="3.3" fill="#1c1c1c"/>
<circle cx="637.18" cy="233.1" r="3.3" fill="#1c1c1c"/>
<circle cx="667.19" cy="246.7" r="3.3" fill="#1c1c1c"/>
<rect x="393.9" y="262.7" width="6.4" height="6.4" fill="#1c1c1c"/>
<rect x="423.91" y="263.5" width="6.4" height="6.4" fill="#1c1c1c"/>
<rect x="453.92" y="263.5" width="6.4" height="6.4" fill="#1c1c1c"/>
<rect x="483.93" y="255.5" width="6.4" height="6.4" fill="#1c1c1c"/>
<rect x="513.94" y="195.1" width="6.4" height="6.4" fill="#1c1c1c"/>
<rect x="543.95" y="222.7" width="6.4" height="6.4" fill="#1c1c1c"/>
<rect x="573.96" y="205.9" width="6.4" height="6.4" fill="#1c1c1c"/>
<rect x="603.97" y="187.5" width="6.4" height="6.4" fill="#1c1c1c"/>
<rect x="633.98" y="145.9" width="6.4" height="6.4" fill="#1c1c1c"/>
<rect x="663.99" y="150.7" width="6.4" height="6.4" fill="#1c1c1c"/>
<path d="M397.1 254L400.2 259.43L394 259.43Z" fill="#1c1c1c"/>
<path d="M427.11 258.8L430.21 264.23L424.01 264.23Z" fill="#1c1c1c"/>
<path d="M457.12 261.2L460.22 266.62L454.02 266.62Z" fill="#1c1c1c"/>
<path d="M487.13 253.2L490.23 258.62L484.03 258.62Z" fill="#1c1c1c"/>
<path d="M517.14 222.8L520.24 228.22L514.04 228.22Z" fill="#1c1c1c"/>
<path d="M547.15 245.2L550.25 250.62L544.05 250.62Z" fill="#1c1c1c"/>
<path d="M577.16 217.2L580.26 222.62L574.06 222.62Z" fill="#1c1c1c"/>
<path d="M607.17 179.6L610.27 185.03L604.07 185.03Z" fill="#1c1c1c"/>
<path d="M637.18 134.8L640.28 140.22L634.08 140.22Z" fill="#1c1c1c"/>
<path d="M667.19 134L670.29 139.43L664.09 139.43Z" fill="#1c1c1c"/>
<path d="M397.1 265L400.2 259.58L394 259.58Z" fill="#1c1c1c"/>
<path d="M427.11 267.4L430.21 261.98L424.01 261.98Z" fill="#1c1c1c"/>
<path d="M457.12 269L460.22 263.58L454.02 263.58Z" fill="#1c1c1c"/>
<path d="M487.13 261L490.23 255.58L484.03 255.58Z" fill="#1c1c1c"/>
<path d="M517.14 231.4L520.24 225.98L514.04 225.98Z" fill="#1c1c1c"/>
<path d="M547.15 255.4L550.25 249.98L544.05 249.98Z" fill="#1c1c1c"/>
<path d="M577.16 223.4L580.26 217.98L574.06 217.98Z" fill="#1c1c1c"/>
<path d="M607.17 193.8L610.27 188.38L604.07 188.38Z" fill="#1c1c1c"/>
<path d="M637.18 152.2L640.28 146.78L634.08 146.78Z" fill="#1c1c1c"/>
<path d="M667.19 202.6L670.29 197.18L664.09 197.18Z" fill="#1c1c1c"/>
<path d="M397.1 259.5L401.1 263.5L397.1 267.5L393.1 263.5Z" fill="#1c1c1c"/>
<path d="M427.11 261.1L431.11 265.1L427.11 269.1L423.11 265.1Z" fill="#1c1c1c"/>
<path d="M457.12 261.9L461.12 265.9L457.12 269.9L453.12 265.9Z" fill="#1c1c1c"/>
<path d="M487.13 253.9L491.13 257.9L487.13 261.9L483.13 257.9Z" fill="#1c1c1c"/>
<path d="M517.14 254.7L521.14 258.7L517.14 262.7L513.14 258.7Z" fill="#1c1c1c"/>
<path d="M547.15 185.1L551.15 189.1L547.15 193.1L543.15 189.1Z" fill="#1c1c1c"/>
<path d="M577.16 216.3L581.16 220.3L577.16 224.3L573.16 220.3Z" fill="#1c1c1c"/>
<path d="M607.17 198.3L611.17 202.3L607.17 206.3L603.17 202.3Z" fill="#1c1c1c"/>
<path d="M637.18 163.5L641.18 167.5L637.18 171.5L633.18 167.5Z" fill="#1c1c1c"/>
<path d="M667.19 133.1L671.19 137.1L667.19 141.1L663.19 137.1Z" fill="#1c1c1c"/>
<circle cx="397.1" cy="264.3" r="3.3" fill="#fff" stroke="#333" stroke-width="1.2"/>
<circle cx="427.11" cy="261.9" r="3.3" fill="#fff" stroke="#333" stroke-width="1.2"/>
<circle cx="457.12" cy="265.1" r="3.3" fill="#fff" stroke="#333" stroke-width="1.2"/>
<circle cx="487.13" cy="260.3" r="3.3" fill="#fff" stroke="#333" stroke-width="1.2"/>
<circle cx="517.14" cy="260.3" r="3.3" fill="#fff" stroke="#333" stroke-width="1.2"/>
<circle cx="547.15" cy="188.3" r="3.3" fill="#fff" stroke="#333" stroke-width="1.2"/>
<circle cx="577.16" cy="220.3" r="3.3" fill="#fff" stroke="#333" stroke-width="1.2"/>
<circle cx="607.17" cy="168.3" r="3.3" fill="#fff" stroke="#333" stroke-width="1.2"/>
<circle cx="637.18" cy="137.9" r="3.3" fill="#fff" stroke="#333" stroke-width="1.2"/>
<circle cx="667.19" cy="145.9" r="3.3" fill="#fff" stroke="#333" stroke-width="1.2"/>
<rect x="394" y="261.2" width="6.2" height="6.2" fill="#fff" stroke="#333" stroke-width="1.2"/>
<rect x="424.01" y="261.2" width="6.2" height="6.2" fill="#fff" stroke="#333" stroke-width="1.2"/>
<rect x="454.02" y="261.2" width="6.2" height="6.2" fill="#fff" stroke="#333" stroke-width="1.2"/>
<rect x="484.03" y="257.2" width="6.2" height="6.2" fill="#fff" stroke="#333" stroke-width="1.2"/>
<rect x="514.04" y="243.6" width="6.2" height="6.2" fill="#fff" stroke="#333" stroke-width="1.2"/>
<rect x="544.05" y="237.2" width="6.2" height="6.2" fill="#fff" stroke="#333" stroke-width="1.2"/>
<rect x="574.06" y="202.8" width="6.2" height="6.2" fill="#fff" stroke="#333" stroke-width="1.2"/>
<rect x="604.07" y="185.2" width="6.2" height="6.2" fill="#fff" stroke="#333" stroke-width="1.2"/>
<rect x="634.08" y="180.4" width="6.2" height="6.2" fill="#fff" stroke="#333" stroke-width="1.2"/>
<rect x="664.09" y="199.2" width="6.2" height="6.2" fill="#fff" stroke="#333" stroke-width="1.2"/>
<path d="M397.1 262.1L400.9 268.75L393.3 268.75Z" fill="#fff" stroke="#333" stroke-width="1.2"/>
<path d="M427.11 262.1L430.91 268.75L423.31 268.75Z" fill="#fff" stroke="#333" stroke-width="1.2"/>
<path d="M457.12 262.1L460.92 268.75L453.32 268.75Z" fill="#fff" stroke="#333" stroke-width="1.2"/>
<path d="M487.13 258.1L490.93 264.75L483.33 264.75Z" fill="#fff" stroke="#333" stroke-width="1.2"/>
<path d="M517.14 262.1L520.94 268.75L513.34 268.75Z" fill="#fff" stroke="#333" stroke-width="1.2"/>
<path d="M547.15 252.5L550.95 259.15L543.35 259.15Z" fill="#fff" stroke="#333" stroke-width="1.2"/>
<path d="M577.16 238.5L580.96 245.15L573.36 245.15Z" fill="#fff" stroke="#333" stroke-width="1.2"/>
<path d="M607.17 210.1L610.97 216.75L603.37 216.75Z" fill="#fff" stroke="#333" stroke-width="1.2"/>
<path d="M637.18 207.7L640.98 214.35L633.38 214.35Z" fill="#fff" stroke="#333" stroke-width="1.2"/>
<path d="M667.19 228.5L670.99 235.15L663.39 235.15Z" fill="#fff" stroke="#333" stroke-width="1.2"/>
<path d="M397.1 269.7L400.9 263.05L393.3 263.05Z" fill="#fff" stroke="#333" stroke-width="1.2"/>
<path d="M427.11 269.7L430.91 263.05L423.31 263.05Z" fill="#fff" stroke="#333" stroke-width="1.2"/>
<path d="M457.12 269.7L460.92 263.05L453.32 263.05Z" fill="#fff" stroke="#333" stroke-width="1.2"/>
<path d="M487.13 265.7L490.93 259.05L483.33 259.05Z" fill="#fff" stroke="#333" stroke-width="1.2"/>
<path d="M517.14 268.1L520.94 261.45L513.34 261.45Z" fill="#fff" stroke="#333" stroke-width="1.2"/>
<path d="M547.15 257.7L550.95 251.05L543.35 251.05Z" fill="#fff" stroke="#333" stroke-width="1.2"/>
<path d="M577.16 239.3L580.96 232.65L573.36 232.65Z" fill="#fff" stroke="#333" stroke-width="1.2"/>
<path d="M607.17 232.1L610.97 225.45L603.37 225.45Z" fill="#fff" stroke="#333" stroke-width="1.2"/>
<path d="M637.18 234.5L640.98 227.85L633.38 227.85Z" fill="#fff" stroke="#333" stroke-width="1.2"/>
<path d="M667.19 233.7L670.99 227.05L663.39 227.05Z" fill="#fff" stroke="#333" stroke-width="1.2"/>
<path d="M397.1 257.3L401.7 261.9L397.1 266.5L392.5 261.9Z" fill="#fff" stroke="#333" stroke-width="1.2"/>
<path d="M427.11 257.3L431.71 261.9L427.11 266.5L422.51 261.9Z" fill="#fff" stroke="#333" stroke-width="1.2"/>
<path d="M457.12 259.7L461.72 264.3L457.12 268.9L452.52 264.3Z" fill="#fff" stroke="#333" stroke-width="1.2"/>
<path d="M487.13 253.3L491.73 257.9L487.13 262.5L482.53 257.9Z" fill="#fff" stroke="#333" stroke-width="1.2"/>
<path d="M517.14 233.3L521.74 237.9L517.14 242.5L512.54 237.9Z" fill="#fff" stroke="#333" stroke-width="1.2"/>
<path d="M547.15 221.3L551.75 225.9L547.15 230.5L542.55 225.9Z" fill="#fff" stroke="#333" stroke-width="1.2"/>
<path d="M577.16 215.7L581.76 220.3L577.16 224.9L572.56 220.3Z" fill="#fff" stroke="#333" stroke-width="1.2"/>
<path d="M607.17 159.7L611.77 164.3L607.17 168.9L602.57 164.3Z" fill="#fff" stroke="#333" stroke-width="1.2"/>
<path d="M637.18 150.9L641.78 155.5L637.18 160.1L632.58 155.5Z" fill="#fff" stroke="#333" stroke-width="1.2"/>
<path d="M667.19 138.1L671.79 142.7L667.19 147.3L662.59 142.7Z" fill="#fff" stroke="#333" stroke-width="1.2"/>
<path d="M392.9 264.3L401.3 264.3M394.13 261.33L400.07 267.27M397.1 260.1L397.1 268.5M400.07 261.33L394.13 267.27" stroke="#1c1c1c" stroke-width="1.3" fill="none"/>
<path d="M422.91 264.3L431.31 264.3M424.14 261.33L430.08 267.27M427.11 260.1L427.11 268.5M430.08 261.33L424.14 267.27" stroke="#1c1c1c" stroke-width="1.3" fill="none"/>
<path d="M452.92 263.5L461.32 263.5M454.15 260.53L460.09 266.47M457.12 259.3L457.12 267.7M460.09 260.53L454.15 266.47" stroke="#1c1c1c" stroke-width="1.3" fill="none"/>
<path d="M482.93 258.7L491.33 258.7M484.16 255.73L490.1 261.67M487.13 254.5L487.13 262.9M490.1 255.73L484.16 261.67" stroke="#1c1c1c" stroke-width="1.3" fill="none"/>
<path d="M512.94 260.3L521.34 260.3M514.17 257.33L520.11 263.27M517.14 256.1L517.14 264.5M520.11 257.33L514.17 263.27" stroke="#1c1c1c" stroke-width="1.3" fill="none"/>
<path d="M542.95 252.3L551.35 252.3M544.18 249.33L550.12 255.27M547.15 248.1L547.15 256.5M550.12 249.33L544.18 255.27" stroke="#1c1c1c" stroke-width="1.3" fill="none"/>
<path d="M572.96 235.5L581.36 235.5M574.19 232.53L580.13 238.47M577.16 231.3L577.16 239.7M580.13 232.53L574.19 238.47" stroke="#1c1c1c" stroke-width="1.3" fill="none"/>
<path d="M602.97 228.3L611.37 228.3M604.2 225.33L610.14 231.27M607.17 224.1L607.17 232.5M610.14 225.33L604.2 231.27" stroke="#1c1c1c" stroke-width="1.3" fill="none"/>
<path d="M632.98 177.9L641.38 177.9M634.21 174.93L640.15 180.87M637.18 173.7L637.18 182.1M640.15 174.93L634.21 180.87" stroke="#1c1c1c" stroke-width="1.3" fill="none"/>
<path d="M662.99 218.7L671.39 218.7M664.22 215.73L670.16 221.67M667.19 214.5L667.19 222.9M670.16 215.73L664.22 221.67" stroke="#1c1c1c" stroke-width="1.3" fill="none"/>
<path d="M397.1 258.3L398.05 260.59L400.52 260.79L398.64 262.4L399.22 264.81L397.1 263.52L394.98 264.81L395.56 262.4L393.68 260.79L396.15 260.59Z" fill="#1c1c1c"/>
<path d="M427.11 259.9L428.06 262.19L430.53 262.39L428.65 264L429.23 266.41L427.11 265.12L424.99 266.41L425.57 264L423.69 262.39L426.16 262.19Z" fill="#1c1c1c"/>
<path d="M457.12 258.3L458.07 260.59L460.54 260.79L458.66 262.4L459.24 264.81L457.12 263.52L455 264.81L455.58 262.4L453.7 260.79L456.17 260.59Z" fill="#1c1c1c"/>
<path d="M487.13 254.3L488.08 256.59L490.55 256.79L488.67 258.4L489.25 260.81L487.13 259.52L485.01 260.81L485.59 258.4L483.71 256.79L486.18 256.59Z" fill="#1c1c1c"/>
<path d="M517.14 255.1L518.09 257.39L520.56 257.59L518.68 259.2L519.26 261.61L517.14 260.32L515.02 261.61L515.6 259.2L513.72 257.59L516.19 257.39Z" fill="#1c1c1c"/>
<path d="M547.15 247.1L548.1 249.39L550.57 249.59L548.69 251.2L549.27 253.61L547.15 252.32L545.03 253.61L545.61 251.2L543.73 249.59L546.2 249.39Z" fill="#1c1c1c"/>
<path d="M577.16 226.3L578.11 228.59L580.58 228.79L578.7 230.4L579.28 232.81L577.16 231.52L575.04 232.81L575.62 230.4L573.74 228.79L576.21 228.59Z" fill="#1c1c1c"/>
<path d="M607.17 198.7L608.12 200.99L610.59 201.19L608.71 202.8L609.29 205.21L607.17 203.92L605.05 205.21L605.63 202.8L603.75 201.19L606.22 200.99Z" fill="#1c1c1c"/>
<path d="M637.18 201.5L638.13 203.79L640.6 203.99L638.72 205.6L639.3 208.01L637.18 206.72L635.06 208.01L635.64 205.6L633.76 203.99L636.23 203.79Z" fill="#1c1c1c"/>
<path d="M667.19 230.3L668.14 232.59L670.61 232.79L668.73 234.4L669.31 236.81L667.19 235.52L665.07 236.81L665.65 234.4L663.77 232.79L666.24 232.59Z" fill="#1c1c1c"/>
<path d="M392.8 263.5L401.4 263.5M397.1 259.2L397.1 267.8" stroke="#1c1c1c" stroke-width="1.5" fill="none"/>
<path d="M422.81 262.7L431.41 262.7M427.11 258.4L427.11 267" stroke="#1c1c1c" stroke-width="1.5" fill="none"/>
<path d="M452.82 260.3L461.42 260.3M457.12 256L457.12 264.6" stroke="#1c1c1c" stroke-width="1.5" fill="none"/>
<path d="M482.83 256.3L491.43 256.3M487.13 252L487.13 260.6" stroke="#1c1c1c" stroke-width="1.5" fill="none"/>
<path d="M512.84 256.3L521.44 256.3M517.14 252L517.14 260.6" stroke="#1c1c1c" stroke-width="1.5" fill="none"/>
<path d="M542.85 248.3L551.45 248.3M547.15 244L547.15 252.6" stroke="#1c1c1c" stroke-width="1.5" fill="none"/>
<path d="M572.86 229.9L581.46 229.9M577.16 225.6L577.16 234.2" stroke="#1c1c1c" stroke-width="1.5" fill="none"/>
<path d="M602.87 190.7L611.47 190.7M607.17 186.4L607.17 195" stroke="#1c1c1c" stroke-width="1.5" fill="none"/>
<path d="M632.88 177.9L641.48 177.9M637.18 173.6L637.18 182.2" stroke="#1c1c1c" stroke-width="1.5" fill="none"/>
<path d="M662.89 199.5L671.49 199.5M667.19 195.2L667.19 203.8" stroke="#1c1c1c" stroke-width="1.5" fill="none"/>
<path d="M394.5 260.1L399.7 265.3M394.5 265.3L399.7 260.1M394.5 262.7L399.7 262.7" stroke="#1c1c1c" stroke-width="1.6" fill="none"/>
<path d="M424.51 260.9L429.71 266.1M424.51 266.1L429.71 260.9M424.51 263.5L429.71 263.5" stroke="#1c1c1c" stroke-width="1.6" fill="none"/>
<path d="M454.52 248.1L459.72 253.3M454.52 253.3L459.72 248.1M454.52 250.7L459.72 250.7" stroke="#1c1c1c" stroke-width="1.6" fill="none"/>
<path d="M484.53 254.5L489.73 259.7M484.53 259.7L489.73 254.5M484.53 257.1L489.73 257.1" stroke="#1c1c1c" stroke-width="1.6" fill="none"/>
<path d="M514.54 255.3L519.74 260.5M514.54 260.5L519.74 255.3M514.54 257.9L519.74 257.9" stroke="#1c1c1c" stroke-width="1.6" fill="none"/>
<path d="M544.55 243.3L549.75 248.5M544.55 248.5L549.75 243.3M544.55 245.9L549.75 245.9" stroke="#1c1c1c" stroke-width="1.6" fill="none"/>
<path d="M574.56 239.7L579.76 244.9M574.56 244.9L579.76 239.7M574.56 242.3L579.76 242.3" stroke="#1c1c1c" stroke-width="1.6" fill="none"/>
<path d="M604.57 228.9L609.77 234.1M604.57 234.1L609.77 228.9M604.57 231.5L609.77 231.5" stroke="#1c1c1c" stroke-width="1.6" fill="none"/>
<path d="M634.58 217.7L639.78 222.9M634.58 222.9L639.78 217.7M634.58 220.3L639.78 220.3" stroke="#1c1c1c" stroke-width="1.6" fill="none"/>
<path d="M664.59 216.1L669.79 221.3M664.59 221.3L669.79 216.1M664.59 218.7L669.79 218.7" stroke="#1c1c1c" stroke-width="1.6" fill="none"/>
<path d="M396.6 64.3L410 64.3" stroke="#1c1c1c" stroke-width="1.8"/>
<circle cx="403.3" cy="64.3" r="3.3" fill="#1c1c1c"/>
<text x="415.5" y="69.1" font-family="'Liberation Sans', sans-serif" font-size="13.9" font-weight="normal" text-anchor="start" fill="#1e1e1e">LMBRD1</text>
<path d="M396.6 87.2L410 87.2" stroke="#1c1c1c" stroke-width="1.8"/>
<rect x="400.1" y="84" width="6.4" height="6.4" fill="#1c1c1c"/>
<text x="415.5" y="92" font-family="'Liberation Sans', sans-serif" font-size="13.9" font-weight="normal" text-anchor="start" fill="#1e1e1e">CHDH</text>
<path d="M396.6 110.3L410 110.3" stroke="#1c1c1c" stroke-width="1.8"/>
<path d="M403.3 106.42L407.18 113.21L399.43 113.21Z" fill="#1c1c1c"/>
<text x="415.5" y="115.1" font-family="'Liberation Sans', sans-serif" font-size="13.9" font-weight="normal" text-anchor="start" fill="#1e1e1e">BADH</text>
<path d="M396.6 132.7L410 132.7" stroke="#1c1c1c" stroke-width="1.8"/>
<path d="M403.3 136.57L407.18 129.79L399.43 129.79Z" fill="#1c1c1c"/>
<text x="415.5" y="137.5" font-family="'Liberation Sans', sans-serif" font-size="13.9" font-weight="normal" text-anchor="start" fill="#1e1e1e">PEMT</text>
<path d="M396.6 155.7L410 155.7" stroke="#1c1c1c" stroke-width="1.8"/>
<path d="M403.3 151.7L407.3 155.7L403.3 159.7L399.3 155.7Z" fill="#1c1c1c"/>
<text x="415.5" y="160.5" font-family="'Liberation Sans', sans-serif" font-size="13.9" font-weight="normal" text-anchor="start" fill="#1e1e1e">BHMT</text>
<path d="M396.6 178.7L410 178.7" stroke="#8a8a8a" stroke-width="1.8"/>
<circle cx="403.3" cy="178.7" r="3.3" fill="none" stroke="#333" stroke-width="1.2"/>
<text x="415.5" y="183.5" font-family="'Liberation Sans', sans-serif" font-size="13.9" font-weight="normal" text-anchor="start" fill="#1e1e1e">MAT1A</text>
<path d="M396.6 201.5L410 201.5" stroke="#8a8a8a" stroke-width="1.8"/>
<rect x="400.2" y="198.4" width="6.2" height="6.2" fill="none" stroke="#333" stroke-width="1.2"/>
<text x="415.5" y="206.3" font-family="'Liberation Sans', sans-serif" font-size="13.9" font-weight="normal" text-anchor="start" fill="#1e1e1e">DMGDH</text>
<path d="M495.7 64L509.1 64" stroke="#8a8a8a" stroke-width="1.8"/>
<path d="M502.4 60.2L506.2 66.85L498.6 66.85Z" fill="none" stroke="#333" stroke-width="1.2"/>
<text x="515.6" y="68.8" font-family="'Liberation Sans', sans-serif" font-size="13.9" font-weight="normal" text-anchor="start" fill="#1e1e1e">CHKA</text>
<path d="M495.7 86.8L509.1 86.8" stroke="#8a8a8a" stroke-width="1.8"/>
<path d="M502.4 90.6L506.2 83.95L498.6 83.95Z" fill="none" stroke="#333" stroke-width="1.2"/>
<text x="515.6" y="91.6" font-family="'Liberation Sans', sans-serif" font-size="13.9" font-weight="normal" text-anchor="start" fill="#1e1e1e">CHKB</text>
<path d="M495.7 110.1L509.1 110.1" stroke="#8a8a8a" stroke-width="1.8"/>
<path d="M502.4 105.5L507 110.1L502.4 114.7L497.8 110.1Z" fill="none" stroke="#333" stroke-width="1.2"/>
<text x="515.6" y="114.9" font-family="'Liberation Sans', sans-serif" font-size="13.9" font-weight="normal" text-anchor="start" fill="#1e1e1e">BHMT2</text>
<path d="M495.7 132.9L509.1 132.9" stroke="#1c1c1c" stroke-width="1.8"/>
<path d="M498.2 132.9L506.6 132.9M499.43 129.93L505.37 135.87M502.4 128.7L502.4 137.1M505.37 129.93L499.43 135.87" stroke="#1c1c1c" stroke-width="1.3" fill="none"/>
<text x="515.6" y="137.7" font-family="'Liberation Sans', sans-serif" font-size="13.9" font-weight="normal" text-anchor="start" fill="#1e1e1e">GAMT</text>
<path d="M590.9 46.3L604.3 46.3" stroke="#1c1c1c" stroke-width="1.8"/>
<path d="M597.6 42.7L598.55 44.99L601.02 45.19L599.14 46.8L599.72 49.21L597.6 47.92L595.48 49.21L596.06 46.8L594.18 45.19L596.65 44.99Z" fill="#1c1c1c"/>
<text x="610.8" y="51.1" font-family="'Liberation Sans', sans-serif" font-size="13.9" font-weight="normal" text-anchor="start" fill="#1e1e1e">SDH</text>
<path d="M590.9 69.1L604.3 69.1" stroke="#1c1c1c" stroke-width="1.8"/>
<path d="M593.3 69.1L601.9 69.1M597.6 64.8L597.6 73.4" stroke="#1c1c1c" stroke-width="1.5" fill="none"/>
<text x="610.8" y="73.9" font-family="'Liberation Sans', sans-serif" font-size="13.9" font-weight="normal" text-anchor="start" fill="#1e1e1e">MTHFD1</text>
<path d="M590.9 89L604.3 89" stroke="#1c1c1c" stroke-width="1.8"/>
<path d="M595 86.4L600.2 91.6M595 91.6L600.2 86.4M595 89L600.2 89" stroke="#1c1c1c" stroke-width="1.6" fill="none"/>
<text x="610.8" y="93.8" font-family="'Liberation Sans', sans-serif" font-size="13.9" font-weight="normal" text-anchor="start" fill="#1e1e1e">SHMT2</text>
<text x="489.1" y="32.6" font-family="'Liberation Sans', sans-serif" font-size="17.1" font-weight="bold" text-anchor="start" fill="#1a1a1a">Group 2</text>
<text x="356" y="42" font-family="'Liberation Serif', serif" font-size="27.5" font-weight="bold" text-anchor="start" fill="#000">(B)</text>
<path d="M29.4 390.89L29.4 591.1" stroke="#111" stroke-width="2.1" fill="none"/>
<path d="M25.2 591.1L330 591.1" stroke="#111" stroke-width="1.8" fill="none"/>
<text x="0" y="0" font-family="'Liberation Sans', sans-serif" font-size="13.7" font-weight="bold" text-anchor="end" fill="#111" transform="translate(24.4 595.74) scale(0.92 1)">0</text>
<path d="M25.2 524.63L29.4 524.63" stroke="#111" stroke-width="1.53"/>
<text x="0" y="0" font-family="'Liberation Sans', sans-serif" font-size="13.7" font-weight="bold" text-anchor="end" fill="#111" transform="translate(24.4 529.27) scale(0.92 1)">10</text>
<path d="M25.2 458.16L29.4 458.16" stroke="#111" stroke-width="1.53"/>
<text x="0" y="0" font-family="'Liberation Sans', sans-serif" font-size="13.7" font-weight="bold" text-anchor="end" fill="#111" transform="translate(24.4 462.8) scale(0.92 1)">20</text>
<path d="M25.2 391.69L29.4 391.69" stroke="#111" stroke-width="1.53"/>
<text x="0" y="0" font-family="'Liberation Sans', sans-serif" font-size="13.7" font-weight="bold" text-anchor="end" fill="#111" transform="translate(24.4 396.33) scale(0.92 1)">30</text>
<path d="M44.2 591.1L44.2 596.1" stroke="#111" stroke-width="1.53"/>
<text x="46" y="606.4" font-family="'Liberation Sans', sans-serif" font-size="13.6" font-weight="bold" text-anchor="end" fill="#111" transform="rotate(-45 46 606.4)">E9</text>
<path d="M74.18 591.1L74.18 596.1" stroke="#111" stroke-width="1.53"/>
<text x="75.98" y="606.4" font-family="'Liberation Sans', sans-serif" font-size="13.6" font-weight="bold" text-anchor="end" fill="#111" transform="rotate(-45 75.98 606.4)">E11</text>
<path d="M104.16 591.1L104.16 596.1" stroke="#111" stroke-width="1.53"/>
<text x="105.96" y="606.4" font-family="'Liberation Sans', sans-serif" font-size="13.6" font-weight="bold" text-anchor="end" fill="#111" transform="rotate(-45 105.96 606.4)">E13</text>
<path d="M134.14 591.1L134.14 596.1" stroke="#111" stroke-width="1.53"/>
<text x="135.94" y="606.4" font-family="'Liberation Sans', sans-serif" font-size="13.6" font-weight="bold" text-anchor="end" fill="#111" transform="rotate(-45 135.94 606.4)">E15</text>
<path d="M164.12 591.1L164.12 596.1" stroke="#111" stroke-width="1.53"/>
<text x="165.92" y="606.4" font-family="'Liberation Sans', sans-serif" font-size="13.6" font-weight="bold" text-anchor="end" fill="#111" transform="rotate(-45 165.92 606.4)">E17</text>
<path d="M194.1 591.1L194.1 596.1" stroke="#111" stroke-width="1.53"/>
<text x="195.9" y="606.4" font-family="'Liberation Sans', sans-serif" font-size="13.6" font-weight="bold" text-anchor="end" fill="#111" transform="rotate(-45 195.9 606.4)">P0</text>
<path d="M224.08 591.1L224.08 596.1" stroke="#111" stroke-width="1.53"/>
<text x="225.88" y="606.4" font-family="'Liberation Sans', sans-serif" font-size="13.6" font-weight="bold" text-anchor="end" fill="#111" transform="rotate(-45 225.88 606.4)">P3</text>
<path d="M254.06 591.1L254.06 596.1" stroke="#111" stroke-width="1.53"/>
<text x="255.86" y="606.4" font-family="'Liberation Sans', sans-serif" font-size="13.6" font-weight="bold" text-anchor="end" fill="#111" transform="rotate(-45 255.86 606.4)">P5</text>
<path d="M284.04 591.1L284.04 596.1" stroke="#111" stroke-width="1.53"/>
<text x="285.84" y="606.4" font-family="'Liberation Sans', sans-serif" font-size="13.6" font-weight="bold" text-anchor="end" fill="#111" transform="rotate(-45 285.84 606.4)">P10</text>
<path d="M314.02 591.1L314.02 596.1" stroke="#111" stroke-width="1.53"/>
<text x="315.82" y="606.4" font-family="'Liberation Sans', sans-serif" font-size="13.6" font-weight="bold" text-anchor="end" fill="#111" transform="rotate(-45 315.82 606.4)">P15</text>
<path d="M314.02 570.49L314.02 577.14M310.02 570.49L318.02 570.49M310.02 577.14L318.02 577.14" stroke="#8a8a8a" stroke-width="1.6" fill="none"/>
<path d="M104.16 575.15L104.16 581.79M100.16 575.15L108.16 575.15M100.16 581.79L108.16 581.79" stroke="#8a8a8a" stroke-width="1.6" fill="none"/>
<path d="M314.02 550.55L314.02 559.86M310.02 550.55L318.02 550.55M310.02 559.86L318.02 559.86" stroke="#8a8a8a" stroke-width="1.6" fill="none"/>
<path d="M284.04 542.58L284.04 555.87M280.04 542.58L288.04 542.58M280.04 555.87L288.04 555.87" stroke="#1c1c1c" stroke-width="1.6" fill="none"/>
<path d="M314.02 516.65L314.02 536.59M310.02 516.65L318.02 516.65M310.02 536.59L318.02 536.59" stroke="#1c1c1c" stroke-width="1.6" fill="none"/>
<path d="M284.04 560.52L284.04 573.82M280.04 560.52L288.04 560.52M280.04 573.82L288.04 573.82" stroke="#1c1c1c" stroke-width="1.6" fill="none"/>
<path d="M314.02 537.92L314.02 551.22M310.02 537.92L318.02 537.92M310.02 551.22L318.02 551.22" stroke="#1c1c1c" stroke-width="1.6" fill="none"/>
<path d="M224.08 536.59L224.08 573.82M220.08 536.59L228.08 536.59M220.08 573.82L228.08 573.82" stroke="#1c1c1c" stroke-width="1.6" fill="none"/>
<path d="M254.06 502.03L254.06 521.97M250.06 502.03L258.06 502.03M250.06 521.97L258.06 521.97" stroke="#1c1c1c" stroke-width="1.6" fill="none"/>
<path d="M284.04 487.41L284.04 512.67M280.04 487.41L288.04 487.41M280.04 512.67L288.04 512.67" stroke="#1c1c1c" stroke-width="1.6" fill="none"/>
<path d="M314.02 429.58L314.02 478.77M310.02 429.58L318.02 429.58M310.02 478.77L318.02 478.77" stroke="#1c1c1c" stroke-width="1.6" fill="none"/>
<path d="M224.08 558.2L224.08 564.84M220.08 558.2L228.08 558.2M220.08 564.84L228.08 564.84" stroke="#1c1c1c" stroke-width="1.6" fill="none"/>
<path d="M254.06 557.2L254.06 563.85M250.06 557.2L258.06 557.2M250.06 563.85L258.06 563.85" stroke="#1c1c1c" stroke-width="1.6" fill="none"/>
<path d="M284.04 527.95L284.04 555.87M280.04 527.95L288.04 527.95M280.04 555.87L288.04 555.87" stroke="#1c1c1c" stroke-width="1.6" fill="none"/>
<path d="M314.02 490.73L314.02 526.62M310.02 490.73L318.02 490.73M310.02 526.62L318.02 526.62" stroke="#1c1c1c" stroke-width="1.6" fill="none"/>
<path d="M44.2 589.11L74.18 589.77L104.16 589.77L134.14 589.11L164.12 589.11L194.1 588.44L224.08 588.11L254.06 587.11L284.04 584.79L314.02 583.79" stroke="#8a8a8a" stroke-width="1.6" fill="none" stroke-linejoin="round"/>
<path d="M44.2 586.45L74.18 579.47L104.16 585.12L134.14 585.78L164.12 584.45L194.1 583.12L224.08 582.46L254.06 579.14L284.04 575.15L314.02 573.82" stroke="#8a8a8a" stroke-width="1.6" fill="none" stroke-linejoin="round"/>
<path d="M44.2 585.78L74.18 587.11L104.16 578.47L134.14 585.12L164.12 583.79L194.1 582.46L224.08 581.13L254.06 577.81L284.04 571.82L314.02 555.21" stroke="#8a8a8a" stroke-width="1.6" fill="none" stroke-linejoin="round"/>
<path d="M44.2 589.77L74.18 589.77L104.16 589.11L134.14 581.13L164.12 578.47L194.1 576.48L224.08 574.48L254.06 565.18L284.04 549.22L314.02 526.62" stroke="#1c1c1c" stroke-width="1.6" fill="none" stroke-linejoin="round"/>
<path d="M44.2 589.11L74.18 589.77L104.16 589.11L134.14 585.12L164.12 582.46L194.1 579.14L224.08 576.48L254.06 569.83L284.04 567.17L314.02 544.57" stroke="#1c1c1c" stroke-width="1.6" fill="none" stroke-linejoin="round"/>
<path d="M44.2 588.44L74.18 589.11L104.16 587.78L134.14 583.12L164.12 579.14L194.1 572.49L224.08 555.21L254.06 512L284.04 500.04L314.02 454.17" stroke="#1c1c1c" stroke-width="1.6" fill="none" stroke-linejoin="round"/>
<path d="M44.2 589.11L74.18 590.77L104.16 590.77L134.14 585.78L164.12 567.84L194.1 559.19L224.08 561.52L254.06 560.52L284.04 541.91L314.02 508.68" stroke="#1c1c1c" stroke-width="1.6" fill="none" stroke-linejoin="round"/>
<path d="M44.2 585.31L48 591.96L40.4 591.96Z" fill="#fff" stroke="#333" stroke-width="1.2"/>
<path d="M74.18 585.97L77.98 592.62L70.38 592.62Z" fill="#fff" stroke="#333" stroke-width="1.2"/>
<path d="M104.16 585.97L107.96 592.62L100.36 592.62Z" fill="#fff" stroke="#333" stroke-width="1.2"/>
<path d="M134.14 585.31L137.94 591.96L130.34 591.96Z" fill="#fff" stroke="#333" stroke-width="1.2"/>
<path d="M164.12 585.31L167.92 591.96L160.32 591.96Z" fill="#fff" stroke="#333" stroke-width="1.2"/>
<path d="M194.1 584.64L197.9 591.29L190.3 591.29Z" fill="#fff" stroke="#333" stroke-width="1.2"/>
<path d="M224.08 584.31L227.88 590.96L220.28 590.96Z" fill="#fff" stroke="#333" stroke-width="1.2"/>
<path d="M254.06 583.31L257.86 589.96L250.26 589.96Z" fill="#fff" stroke="#333" stroke-width="1.2"/>
<path d="M284.04 580.99L287.84 587.64L280.24 587.64Z" fill="#fff" stroke="#333" stroke-width="1.2"/>
<path d="M314.02 579.99L317.82 586.64L310.22 586.64Z" fill="#fff" stroke="#333" stroke-width="1.2"/>
<rect x="41.1" y="583.35" width="6.2" height="6.2" fill="#fff" stroke="#333" stroke-width="1.2"/>
<rect x="71.08" y="576.37" width="6.2" height="6.2" fill="#fff" stroke="#333" stroke-width="1.2"/>
<rect x="101.06" y="582.02" width="6.2" height="6.2" fill="#fff" stroke="#333" stroke-width="1.2"/>
<rect x="131.04" y="582.68" width="6.2" height="6.2" fill="#fff" stroke="#333" stroke-width="1.2"/>
<rect x="161.02" y="581.35" width="6.2" height="6.2" fill="#fff" stroke="#333" stroke-width="1.2"/>
<rect x="191" y="580.02" width="6.2" height="6.2" fill="#fff" stroke="#333" stroke-width="1.2"/>
<rect x="220.98" y="579.36" width="6.2" height="6.2" fill="#fff" stroke="#333" stroke-width="1.2"/>
<rect x="250.96" y="576.04" width="6.2" height="6.2" fill="#fff" stroke="#333" stroke-width="1.2"/>
<rect x="280.94" y="572.05" width="6.2" height="6.2" fill="#fff" stroke="#333" stroke-width="1.2"/>
<rect x="310.92" y="570.72" width="6.2" height="6.2" fill="#fff" stroke="#333" stroke-width="1.2"/>
<circle cx="44.2" cy="585.78" r="3.3" fill="#fff" stroke="#333" stroke-width="1.2"/>
<circle cx="74.18" cy="587.11" r="3.3" fill="#fff" stroke="#333" stroke-width="1.2"/>
<circle cx="104.16" cy="578.47" r="3.3" fill="#fff" stroke="#333" stroke-width="1.2"/>
<circle cx="134.14" cy="585.12" r="3.3" fill="#fff" stroke="#333" stroke-width="1.2"/>
<circle cx="164.12" cy="583.79" r="3.3" fill="#fff" stroke="#333" stroke-width="1.2"/>
<circle cx="194.1" cy="582.46" r="3.3" fill="#fff" stroke="#333" stroke-width="1.2"/>
<circle cx="224.08" cy="581.13" r="3.3" fill="#fff" stroke="#333" stroke-width="1.2"/>
<circle cx="254.06" cy="577.81" r="3.3" fill="#fff" stroke="#333" stroke-width="1.2"/>
<circle cx="284.04" cy="571.82" r="3.3" fill="#fff" stroke="#333" stroke-width="1.2"/>
<circle cx="314.02" cy="555.21" r="3.3" fill="#fff" stroke="#333" stroke-width="1.2"/>
<path d="M44.2 585.77L48.2 589.77L44.2 593.77L40.2 589.77Z" fill="#1c1c1c"/>
<path d="M74.18 585.77L78.18 589.77L74.18 593.77L70.18 589.77Z" fill="#1c1c1c"/>
<path d="M104.16 585.11L108.16 589.11L104.16 593.11L100.16 589.11Z" fill="#1c1c1c"/>
<path d="M134.14 577.13L138.14 581.13L134.14 585.13L130.14 581.13Z" fill="#1c1c1c"/>
<path d="M164.12 574.47L168.12 578.47L164.12 582.47L160.12 578.47Z" fill="#1c1c1c"/>
<path d="M194.1 572.48L198.1 576.48L194.1 580.48L190.1 576.48Z" fill="#1c1c1c"/>
<path d="M224.08 570.48L228.08 574.48L224.08 578.48L220.08 574.48Z" fill="#1c1c1c"/>
<path d="M254.06 561.18L258.06 565.18L254.06 569.18L250.06 565.18Z" fill="#1c1c1c"/>
<path d="M284.04 545.22L288.04 549.22L284.04 553.22L280.04 549.22Z" fill="#1c1c1c"/>
<path d="M314.02 522.62L318.02 526.62L314.02 530.62L310.02 526.62Z" fill="#1c1c1c"/>
<path d="M44.2 592.21L47.3 586.78L41.1 586.78Z" fill="#1c1c1c"/>
<path d="M74.18 592.87L77.28 587.45L71.08 587.45Z" fill="#1c1c1c"/>
<path d="M104.16 592.21L107.26 586.78L101.06 586.78Z" fill="#1c1c1c"/>
<path d="M134.14 588.22L137.24 582.79L131.04 582.79Z" fill="#1c1c1c"/>
<path d="M164.12 585.56L167.22 580.13L161.02 580.13Z" fill="#1c1c1c"/>
<path d="M194.1 582.24L197.2 576.81L191 576.81Z" fill="#1c1c1c"/>
<path d="M224.08 579.58L227.18 574.15L220.98 574.15Z" fill="#1c1c1c"/>
<path d="M254.06 572.93L257.16 567.5L250.96 567.5Z" fill="#1c1c1c"/>
<path d="M284.04 570.27L287.14 564.85L280.94 564.85Z" fill="#1c1c1c"/>
<path d="M314.02 547.67L317.12 542.25L310.92 542.25Z" fill="#1c1c1c"/>
<path d="M44.2 585.34L47.3 590.77L41.1 590.77Z" fill="#1c1c1c"/>
<path d="M74.18 586.01L77.28 591.43L71.08 591.43Z" fill="#1c1c1c"/>
<path d="M104.16 584.68L107.26 590.1L101.06 590.1Z" fill="#1c1c1c"/>
<path d="M134.14 580.02L137.24 585.45L131.04 585.45Z" fill="#1c1c1c"/>
<path d="M164.12 576.04L167.22 581.46L161.02 581.46Z" fill="#1c1c1c"/>
<path d="M194.1 569.39L197.2 574.81L191 574.81Z" fill="#1c1c1c"/>
<path d="M224.08 552.11L227.18 557.53L220.98 557.53Z" fill="#1c1c1c"/>
<path d="M254.06 508.9L257.16 514.33L250.96 514.33Z" fill="#1c1c1c"/>
<path d="M284.04 496.94L287.14 502.36L280.94 502.36Z" fill="#1c1c1c"/>
<path d="M314.02 451.07L317.12 456.5L310.92 456.5Z" fill="#1c1c1c"/>
<rect x="41" y="585.91" width="6.4" height="6.4" fill="#1c1c1c"/>
<rect x="70.98" y="587.57" width="6.4" height="6.4" fill="#1c1c1c"/>
<rect x="100.96" y="587.57" width="6.4" height="6.4" fill="#1c1c1c"/>
<rect x="130.94" y="582.58" width="6.4" height="6.4" fill="#1c1c1c"/>
<rect x="160.92" y="564.64" width="6.4" height="6.4" fill="#1c1c1c"/>
<rect x="190.9" y="555.99" width="6.4" height="6.4" fill="#1c1c1c"/>
<rect x="220.88" y="558.32" width="6.4" height="6.4" fill="#1c1c1c"/>
<rect x="250.86" y="557.32" width="6.4" height="6.4" fill="#1c1c1c"/>
<rect x="280.84" y="538.71" width="6.4" height="6.4" fill="#1c1c1c"/>
<rect x="310.82" y="505.48" width="6.4" height="6.4" fill="#1c1c1c"/>
<path d="M51 407.4L64.4 407.4" stroke="#1c1c1c" stroke-width="1.8"/>
<rect x="54.5" y="404.2" width="6.4" height="6.4" fill="#1c1c1c"/>
<text x="70.6" y="412.2" font-family="'Liberation Sans', sans-serif" font-size="13.9" font-weight="normal" text-anchor="start" fill="#1e1e1e">GNMT</text>
<path d="M51 430.5L64.4 430.5" stroke="#1c1c1c" stroke-width="1.8"/>
<path d="M57.7 426.62L61.58 433.41L53.83 433.41Z" fill="#1c1c1c"/>
<text x="70.6" y="435.3" font-family="'Liberation Sans', sans-serif" font-size="13.9" font-weight="normal" text-anchor="start" fill="#1e1e1e">CBS</text>
<path d="M51 453.4L64.4 453.4" stroke="#1c1c1c" stroke-width="1.8"/>
<path d="M57.7 457.27L61.58 450.49L53.83 450.49Z" fill="#1c1c1c"/>
<text x="70.6" y="458.2" font-family="'Liberation Sans', sans-serif" font-size="13.9" font-weight="normal" text-anchor="start" fill="#1e1e1e">PCYT2</text>
<path d="M51 476.2L64.4 476.2" stroke="#1c1c1c" stroke-width="1.8"/>
<path d="M57.7 472.2L61.7 476.2L57.7 480.2L53.7 476.2Z" fill="#1c1c1c"/>
<text x="70.6" y="481" font-family="'Liberation Sans', sans-serif" font-size="13.9" font-weight="normal" text-anchor="start" fill="#1e1e1e">SHMT1</text>
<path d="M51 499.1L64.4 499.1" stroke="#8a8a8a" stroke-width="1.8"/>
<circle cx="57.7" cy="499.1" r="3.3" fill="none" stroke="#333" stroke-width="1.2"/>
<text x="70.6" y="503.9" font-family="'Liberation Sans', sans-serif" font-size="13.9" font-weight="normal" text-anchor="start" fill="#1e1e1e">SAHH</text>
<path d="M51 521.6L64.4 521.6" stroke="#8a8a8a" stroke-width="1.8"/>
<rect x="54.6" y="518.5" width="6.2" height="6.2" fill="none" stroke="#333" stroke-width="1.2"/>
<text x="70.6" y="526.4" font-family="'Liberation Sans', sans-serif" font-size="13.9" font-weight="normal" text-anchor="start" fill="#1e1e1e">MTHFR</text>
<path d="M51 544.2L64.4 544.2" stroke="#8a8a8a" stroke-width="1.8"/>
<path d="M57.7 540.4L61.5 547.05L53.9 547.05Z" fill="none" stroke="#333" stroke-width="1.2"/>
<text x="70.6" y="549" font-family="'Liberation Sans', sans-serif" font-size="13.9" font-weight="normal" text-anchor="start" fill="#1e1e1e">MMACHC</text>
<text x="136" y="355.8" font-family="'Liberation Sans', sans-serif" font-size="17.1" font-weight="bold" text-anchor="start" fill="#1a1a1a">Group 3</text>
<text x="-0.1" y="362.8" font-family="'Liberation Serif', serif" font-size="27.5" font-weight="bold" text-anchor="start" fill="#000">(C)</text>
<path d="M375.2 384L375.2 584.4" stroke="#111" stroke-width="1.9" fill="none"/>
<path d="M371 584.4L675.3 584.4" stroke="#111" stroke-width="1.6" fill="none"/>
<text x="0" y="0" font-family="'Liberation Sans', sans-serif" font-size="13.2" font-weight="bold" text-anchor="end" fill="#111" transform="translate(370 589.07) scale(0.88 1)">0</text>
<path d="M371 518L375.2 518" stroke="#111" stroke-width="1.36"/>
<text x="0" y="0" font-family="'Liberation Sans', sans-serif" font-size="13.2" font-weight="bold" text-anchor="end" fill="#111" transform="translate(370 522.47) scale(0.88 1)">1</text>
<path d="M371 451.4L375.2 451.4" stroke="#111" stroke-width="1.36"/>
<text x="0" y="0" font-family="'Liberation Sans', sans-serif" font-size="13.2" font-weight="bold" text-anchor="end" fill="#111" transform="translate(370 455.87) scale(0.88 1)">2</text>
<path d="M371 384.8L375.2 384.8" stroke="#111" stroke-width="1.36"/>
<text x="0" y="0" font-family="'Liberation Sans', sans-serif" font-size="13.2" font-weight="bold" text-anchor="end" fill="#111" transform="translate(370 389.27) scale(0.88 1)">3</text>
<path d="M389.9 584.4L389.9 589.4" stroke="#111" stroke-width="1.36"/>
<text x="391.7" y="599.7" font-family="'Liberation Sans', sans-serif" font-size="13.6" font-weight="bold" text-anchor="end" fill="#111" transform="rotate(-45 391.7 599.7)">E9</text>
<path d="M419.87 584.4L419.87 589.4" stroke="#111" stroke-width="1.36"/>
<text x="421.67" y="599.7" font-family="'Liberation Sans', sans-serif" font-size="13.6" font-weight="bold" text-anchor="end" fill="#111" transform="rotate(-45 421.67 599.7)">E11</text>
<path d="M449.84 584.4L449.84 589.4" stroke="#111" stroke-width="1.36"/>
<text x="451.64" y="599.7" font-family="'Liberation Sans', sans-serif" font-size="13.6" font-weight="bold" text-anchor="end" fill="#111" transform="rotate(-45 451.64 599.7)">E13</text>
<path d="M479.81 584.4L479.81 589.4" stroke="#111" stroke-width="1.36"/>
<text x="481.61" y="599.7" font-family="'Liberation Sans', sans-serif" font-size="13.6" font-weight="bold" text-anchor="end" fill="#111" transform="rotate(-45 481.61 599.7)">E15</text>
<path d="M509.78 584.4L509.78 589.4" stroke="#111" stroke-width="1.36"/>
<text x="511.58" y="599.7" font-family="'Liberation Sans', sans-serif" font-size="13.6" font-weight="bold" text-anchor="end" fill="#111" transform="rotate(-45 511.58 599.7)">E17</text>
<path d="M539.75 584.4L539.75 589.4" stroke="#111" stroke-width="1.36"/>
<text x="541.55" y="599.7" font-family="'Liberation Sans', sans-serif" font-size="13.6" font-weight="bold" text-anchor="end" fill="#111" transform="rotate(-45 541.55 599.7)">P0</text>
<path d="M569.72 584.4L569.72 589.4" stroke="#111" stroke-width="1.36"/>
<text x="571.52" y="599.7" font-family="'Liberation Sans', sans-serif" font-size="13.6" font-weight="bold" text-anchor="end" fill="#111" transform="rotate(-45 571.52 599.7)">P3</text>
<path d="M599.69 584.4L599.69 589.4" stroke="#111" stroke-width="1.36"/>
<text x="601.49" y="599.7" font-family="'Liberation Sans', sans-serif" font-size="13.6" font-weight="bold" text-anchor="end" fill="#111" transform="rotate(-45 601.49 599.7)">P5</text>
<path d="M629.66 584.4L629.66 589.4" stroke="#111" stroke-width="1.36"/>
<text x="631.46" y="599.7" font-family="'Liberation Sans', sans-serif" font-size="13.6" font-weight="bold" text-anchor="end" fill="#111" transform="rotate(-45 631.46 599.7)">P10</text>
<path d="M659.63 584.4L659.63 589.4" stroke="#111" stroke-width="1.36"/>
<text x="661.43" y="599.7" font-family="'Liberation Sans', sans-serif" font-size="13.6" font-weight="bold" text-anchor="end" fill="#111" transform="rotate(-45 661.43 599.7)">P15</text>
<path d="M389.9 522.3L389.9 534.3M385.9 522.3L393.9 522.3M385.9 534.3L393.9 534.3" stroke="#1c1c1c" stroke-width="1.6" fill="none"/>
<path d="M419.87 472.6L419.87 490.6M415.87 472.6L423.87 472.6M415.87 490.6L423.87 490.6" stroke="#1c1c1c" stroke-width="1.6" fill="none"/>
<path d="M449.84 492.9L449.84 524.9M445.84 492.9L453.84 492.9M445.84 524.9L453.84 524.9" stroke="#1c1c1c" stroke-width="1.6" fill="none"/>
<path d="M509.78 548.1L509.78 563.1M505.78 548.1L513.78 548.1M505.78 563.1L513.78 563.1" stroke="#1c1c1c" stroke-width="1.6" fill="none"/>
<path d="M539.75 522.5L539.75 540.5M535.75 522.5L543.75 522.5M535.75 540.5L543.75 540.5" stroke="#1c1c1c" stroke-width="1.6" fill="none"/>
<path d="M569.72 483.8L569.72 527.8M565.72 483.8L573.72 483.8M565.72 527.8L573.72 527.8" stroke="#1c1c1c" stroke-width="1.6" fill="none"/>
<path d="M599.69 458.6L599.69 524.6M595.69 458.6L603.69 458.6M595.69 524.6L603.69 524.6" stroke="#1c1c1c" stroke-width="1.6" fill="none"/>
<path d="M629.66 416.8L629.66 501.4M625.66 416.8L633.66 416.8M625.66 501.4L633.66 501.4" stroke="#1c1c1c" stroke-width="1.6" fill="none"/>
<path d="M659.63 489.5L659.63 529.1M655.63 489.5L663.63 489.5M655.63 529.1L663.63 529.1" stroke="#1c1c1c" stroke-width="1.6" fill="none"/>
<path d="M389.9 506.5L389.9 514.5M385.9 506.5L393.9 506.5M385.9 514.5L393.9 514.5" stroke="#1c1c1c" stroke-width="1.6" fill="none"/>
<path d="M449.84 493.7L449.84 507.7M445.84 493.7L453.84 493.7M445.84 507.7L453.84 507.7" stroke="#1c1c1c" stroke-width="1.6" fill="none"/>
<path d="M479.81 491L479.81 501M475.81 491L483.81 491M475.81 501L483.81 501" stroke="#1c1c1c" stroke-width="1.6" fill="none"/>
<path d="M509.78 539.3L509.78 553.3M505.78 539.3L513.78 539.3M505.78 553.3L513.78 553.3" stroke="#1c1c1c" stroke-width="1.6" fill="none"/>
<path d="M539.75 510.8L539.75 522.8M535.75 510.8L543.75 510.8M535.75 522.8L543.75 522.8" stroke="#1c1c1c" stroke-width="1.6" fill="none"/>
<path d="M569.72 462.6L569.72 517.2M565.72 462.6L573.72 462.6M565.72 517.2L573.72 517.2" stroke="#1c1c1c" stroke-width="1.6" fill="none"/>
<path d="M599.69 490.2L599.69 516.8M595.69 490.2L603.69 490.2M595.69 516.8L603.69 516.8" stroke="#1c1c1c" stroke-width="1.6" fill="none"/>
<path d="M629.66 470.4L629.66 485.2M625.66 470.4L633.66 470.4M625.66 485.2L633.66 485.2" stroke="#1c1c1c" stroke-width="1.6" fill="none"/>
<path d="M659.63 480.1L659.63 513.7M655.63 480.1L663.63 480.1M655.63 513.7L663.63 513.7" stroke="#1c1c1c" stroke-width="1.6" fill="none"/>
<path d="M389.9 528.3L419.87 481.6L449.84 508.9L479.81 508.4L509.78 555.6L539.75 531.5L569.72 505.8L599.69 491.6L629.66 459.1L659.63 509.3" stroke="#1c1c1c" stroke-width="1.6" fill="none" stroke-linejoin="round"/>
<path d="M389.9 510.5L419.87 503.5L449.84 500.7L479.81 496L509.78 546.3L539.75 516.8L569.72 489.9L599.69 503.5L629.66 477.8L659.63 496.9" stroke="#1c1c1c" stroke-width="1.6" fill="none" stroke-linejoin="round"/>
<circle cx="389.9" cy="528.3" r="3.3" fill="#1c1c1c"/>
<circle cx="419.87" cy="481.6" r="3.3" fill="#1c1c1c"/>
<circle cx="449.84" cy="508.9" r="3.3" fill="#1c1c1c"/>
<circle cx="479.81" cy="508.4" r="3.3" fill="#1c1c1c"/>
<circle cx="509.78" cy="555.6" r="3.3" fill="#1c1c1c"/>
<circle cx="539.75" cy="531.5" r="3.3" fill="#1c1c1c"/>
<circle cx="569.72" cy="505.8" r="3.3" fill="#1c1c1c"/>
<circle cx="599.69" cy="491.6" r="3.3" fill="#1c1c1c"/>
<circle cx="629.66" cy="459.1" r="3.3" fill="#1c1c1c"/>
<circle cx="659.63" cy="509.3" r="3.3" fill="#1c1c1c"/>
<rect x="386.7" y="507.3" width="6.4" height="6.4" fill="#1c1c1c"/>
<rect x="416.67" y="500.3" width="6.4" height="6.4" fill="#1c1c1c"/>
<rect x="446.64" y="497.5" width="6.4" height="6.4" fill="#1c1c1c"/>
<rect x="476.61" y="492.8" width="6.4" height="6.4" fill="#1c1c1c"/>
<rect x="506.58" y="543.1" width="6.4" height="6.4" fill="#1c1c1c"/>
<rect x="536.55" y="513.6" width="6.4" height="6.4" fill="#1c1c1c"/>
<rect x="566.52" y="486.7" width="6.4" height="6.4" fill="#1c1c1c"/>
<rect x="596.49" y="500.3" width="6.4" height="6.4" fill="#1c1c1c"/>
<rect x="626.46" y="474.6" width="6.4" height="6.4" fill="#1c1c1c"/>
<rect x="656.43" y="493.7" width="6.4" height="6.4" fill="#1c1c1c"/>
<path d="M399.6 401.4L413 401.4" stroke="#1c1c1c" stroke-width="1.8"/>
<circle cx="406.3" cy="401.4" r="3.3" fill="#1c1c1c"/>
<text x="418.5" y="406.2" font-family="'Liberation Sans', sans-serif" font-size="13.9" font-weight="normal" text-anchor="start" fill="#1e1e1e">MTR</text>
<path d="M399.6 424.1L413 424.1" stroke="#1c1c1c" stroke-width="1.8"/>
<rect x="403.1" y="420.9" width="6.4" height="6.4" fill="#1c1c1c"/>
<text x="418.5" y="428.9" font-family="'Liberation Sans', sans-serif" font-size="13.9" font-weight="normal" text-anchor="start" fill="#1e1e1e">MTRR</text>
<text x="485.2" y="349.3" font-family="'Liberation Sans', sans-serif" font-size="17.1" font-weight="bold" text-anchor="start" fill="#1a1a1a">Group 4</text>
<text x="355.9" y="362.2" font-family="'Liberation Serif', serif" font-size="27.5" font-weight="bold" text-anchor="start" fill="#000">(D)</text>
<path d="M21.8 710.85L21.8 911.1" stroke="#111" stroke-width="1.9" fill="none"/>
<path d="M17.6 911.1L322.9 911.1" stroke="#111" stroke-width="1.6" fill="none"/>
<text x="0" y="0" font-family="'Liberation Sans', sans-serif" font-size="13.7" font-weight="bold" text-anchor="end" fill="#111" transform="translate(17.3 916.24) scale(0.86 1)">0</text>
<path d="M17.6 844.95L21.8 844.95" stroke="#111" stroke-width="1.36"/>
<text x="0" y="0" font-family="'Liberation Sans', sans-serif" font-size="13.7" font-weight="bold" text-anchor="end" fill="#111" transform="translate(17.3 849.59) scale(0.86 1)">1</text>
<path d="M17.6 778.3L21.8 778.3" stroke="#111" stroke-width="1.36"/>
<text x="0" y="0" font-family="'Liberation Sans', sans-serif" font-size="13.7" font-weight="bold" text-anchor="end" fill="#111" transform="translate(17.3 782.94) scale(0.86 1)">2</text>
<path d="M17.6 711.65L21.8 711.65" stroke="#111" stroke-width="1.36"/>
<text x="0" y="0" font-family="'Liberation Sans', sans-serif" font-size="13.7" font-weight="bold" text-anchor="end" fill="#111" transform="translate(17.3 716.29) scale(0.86 1)">3</text>
<path d="M37.2 911.1L37.2 916.1" stroke="#111" stroke-width="1.36"/>
<text x="39" y="926.4" font-family="'Liberation Sans', sans-serif" font-size="13.6" font-weight="bold" text-anchor="end" fill="#111" transform="rotate(-45 39 926.4)">E9</text>
<path d="M67.19 911.1L67.19 916.1" stroke="#111" stroke-width="1.36"/>
<text x="68.99" y="926.4" font-family="'Liberation Sans', sans-serif" font-size="13.6" font-weight="bold" text-anchor="end" fill="#111" transform="rotate(-45 68.99 926.4)">E11</text>
<path d="M97.18 911.1L97.18 916.1" stroke="#111" stroke-width="1.36"/>
<text x="98.98" y="926.4" font-family="'Liberation Sans', sans-serif" font-size="13.6" font-weight="bold" text-anchor="end" fill="#111" transform="rotate(-45 98.98 926.4)">E13</text>
<path d="M127.17 911.1L127.17 916.1" stroke="#111" stroke-width="1.36"/>
<text x="128.97" y="926.4" font-family="'Liberation Sans', sans-serif" font-size="13.6" font-weight="bold" text-anchor="end" fill="#111" transform="rotate(-45 128.97 926.4)">E15</text>
<path d="M157.16 911.1L157.16 916.1" stroke="#111" stroke-width="1.36"/>
<text x="158.96" y="926.4" font-family="'Liberation Sans', sans-serif" font-size="13.6" font-weight="bold" text-anchor="end" fill="#111" transform="rotate(-45 158.96 926.4)">E17</text>
<path d="M187.15 911.1L187.15 916.1" stroke="#111" stroke-width="1.36"/>
<text x="188.95" y="926.4" font-family="'Liberation Sans', sans-serif" font-size="13.6" font-weight="bold" text-anchor="end" fill="#111" transform="rotate(-45 188.95 926.4)">P0</text>
<path d="M217.14 911.1L217.14 916.1" stroke="#111" stroke-width="1.36"/>
<text x="218.94" y="926.4" font-family="'Liberation Sans', sans-serif" font-size="13.6" font-weight="bold" text-anchor="end" fill="#111" transform="rotate(-45 218.94 926.4)">P3</text>
<path d="M247.13 911.1L247.13 916.1" stroke="#111" stroke-width="1.36"/>
<text x="248.93" y="926.4" font-family="'Liberation Sans', sans-serif" font-size="13.6" font-weight="bold" text-anchor="end" fill="#111" transform="rotate(-45 248.93 926.4)">P5</text>
<path d="M277.12 911.1L277.12 916.1" stroke="#111" stroke-width="1.36"/>
<text x="278.92" y="926.4" font-family="'Liberation Sans', sans-serif" font-size="13.6" font-weight="bold" text-anchor="end" fill="#111" transform="rotate(-45 278.92 926.4)">P10</text>
<path d="M307.11 911.1L307.11 916.1" stroke="#111" stroke-width="1.36"/>
<text x="308.91" y="926.4" font-family="'Liberation Sans', sans-serif" font-size="13.6" font-weight="bold" text-anchor="end" fill="#111" transform="rotate(-45 308.91 926.4)">P15</text>
<path d="M67.19 872.8L67.19 886.2M63.19 872.8L71.19 872.8M63.19 886.2L71.19 886.2" stroke="#1c1c1c" stroke-width="1.6" fill="none"/>
<path d="M97.18 774.4L97.18 851.8M93.18 774.4L101.18 774.4M93.18 851.8L101.18 851.8" stroke="#1c1c1c" stroke-width="1.6" fill="none"/>
<path d="M127.17 804.3L127.17 828.9M123.17 804.3L131.17 804.3M123.17 828.9L131.17 828.9" stroke="#1c1c1c" stroke-width="1.6" fill="none"/>
<path d="M157.16 846.1L157.16 871.3M153.16 846.1L161.16 846.1M153.16 871.3L161.16 871.3" stroke="#1c1c1c" stroke-width="1.6" fill="none"/>
<path d="M187.15 874.7L187.15 884.7M183.15 874.7L191.15 874.7M183.15 884.7L191.15 884.7" stroke="#1c1c1c" stroke-width="1.6" fill="none"/>
<path d="M217.14 829.6L217.14 859.6M213.14 829.6L221.14 829.6M213.14 859.6L221.14 859.6" stroke="#1c1c1c" stroke-width="1.6" fill="none"/>
<path d="M247.13 810.3L247.13 847.3M243.13 810.3L251.13 810.3M243.13 847.3L251.13 847.3" stroke="#1c1c1c" stroke-width="1.6" fill="none"/>
<path d="M277.12 819.3L277.12 869.9M273.12 819.3L281.12 819.3M273.12 869.9L281.12 869.9" stroke="#1c1c1c" stroke-width="1.6" fill="none"/>
<path d="M307.11 872.7L307.11 894.7M303.11 872.7L311.11 872.7M303.11 894.7L311.11 894.7" stroke="#1c1c1c" stroke-width="1.6" fill="none"/>
<path d="M37.2 871L37.2 879M33.2 871L41.2 871M33.2 879L41.2 879" stroke="#1c1c1c" stroke-width="1.6" fill="none"/>
<path d="M67.19 850.6L67.19 860.6M63.19 850.6L71.19 850.6M63.19 860.6L71.19 860.6" stroke="#1c1c1c" stroke-width="1.6" fill="none"/>
<path d="M97.18 827L97.18 839M93.18 827L101.18 827M93.18 839L101.18 839" stroke="#1c1c1c" stroke-width="1.6" fill="none"/>
<path d="M127.17 750.5L127.17 758.5M123.17 750.5L131.17 750.5M123.17 758.5L131.17 758.5" stroke="#1c1c1c" stroke-width="1.6" fill="none"/>
<path d="M157.16 814.6L157.16 846.2M153.16 814.6L161.16 814.6M153.16 846.2L161.16 846.2" stroke="#1c1c1c" stroke-width="1.6" fill="none"/>
<path d="M187.15 793.4L187.15 818.8M183.15 793.4L191.15 793.4M183.15 818.8L191.15 818.8" stroke="#1c1c1c" stroke-width="1.6" fill="none"/>
<path d="M217.14 727.7L217.14 789.7M213.14 727.7L221.14 727.7M213.14 789.7L221.14 789.7" stroke="#1c1c1c" stroke-width="1.6" fill="none"/>
<path d="M247.13 735L247.13 777.8M243.13 735L251.13 735M243.13 777.8L251.13 777.8" stroke="#1c1c1c" stroke-width="1.6" fill="none"/>
<path d="M277.12 726.4L277.12 780.2M273.12 726.4L281.12 726.4M273.12 780.2L281.12 780.2" stroke="#1c1c1c" stroke-width="1.6" fill="none"/>
<path d="M307.11 808L307.11 828.6M303.11 808L311.11 808M303.11 828.6L311.11 828.6" stroke="#1c1c1c" stroke-width="1.6" fill="none"/>
<path d="M37.2 866.8L67.19 879.5L97.18 813.1L127.17 816.6L157.16 858.7L187.15 879.7L217.14 844.6L247.13 828.8L277.12 844.6L307.11 883.7" stroke="#1c1c1c" stroke-width="1.6" fill="none" stroke-linejoin="round"/>
<path d="M37.2 875L67.19 855.6L97.18 833L127.17 754.5L157.16 830.4L187.15 806.1L217.14 758.7L247.13 756.4L277.12 753.3L307.11 818.3" stroke="#1c1c1c" stroke-width="1.6" fill="none" stroke-linejoin="round"/>
<circle cx="37.2" cy="866.8" r="3.3" fill="#1c1c1c"/>
<circle cx="67.19" cy="879.5" r="3.3" fill="#1c1c1c"/>
<circle cx="97.18" cy="813.1" r="3.3" fill="#1c1c1c"/>
<circle cx="127.17" cy="816.6" r="3.3" fill="#1c1c1c"/>
<circle cx="157.16" cy="858.7" r="3.3" fill="#1c1c1c"/>
<circle cx="187.15" cy="879.7" r="3.3" fill="#1c1c1c"/>
<circle cx="217.14" cy="844.6" r="3.3" fill="#1c1c1c"/>
<circle cx="247.13" cy="828.8" r="3.3" fill="#1c1c1c"/>
<circle cx="277.12" cy="844.6" r="3.3" fill="#1c1c1c"/>
<circle cx="307.11" cy="883.7" r="3.3" fill="#1c1c1c"/>
<rect x="34" y="871.8" width="6.4" height="6.4" fill="#1c1c1c"/>
<rect x="63.99" y="852.4" width="6.4" height="6.4" fill="#1c1c1c"/>
<rect x="93.98" y="829.8" width="6.4" height="6.4" fill="#1c1c1c"/>
<rect x="123.97" y="751.3" width="6.4" height="6.4" fill="#1c1c1c"/>
<rect x="153.96" y="827.2" width="6.4" height="6.4" fill="#1c1c1c"/>
<rect x="183.95" y="802.9" width="6.4" height="6.4" fill="#1c1c1c"/>
<rect x="213.94" y="755.5" width="6.4" height="6.4" fill="#1c1c1c"/>
<rect x="243.93" y="753.2" width="6.4" height="6.4" fill="#1c1c1c"/>
<rect x="273.92" y="750.1" width="6.4" height="6.4" fill="#1c1c1c"/>
<rect x="303.91" y="815.1" width="6.4" height="6.4" fill="#1c1c1c"/>
<path d="M41.7 705.4L55.1 705.4" stroke="#1c1c1c" stroke-width="1.8"/>
<circle cx="48.4" cy="705.4" r="3.3" fill="#1c1c1c"/>
<text x="61.2" y="710.2" font-family="'Liberation Sans', sans-serif" font-size="13.9" font-weight="normal" text-anchor="start" fill="#1e1e1e">MTHFD1L</text>
<path d="M41.7 728.6L55.1 728.6" stroke="#1c1c1c" stroke-width="1.8"/>
<rect x="45.2" y="725.4" width="6.4" height="6.4" fill="#1c1c1c"/>
<text x="61.2" y="733.4" font-family="'Liberation Sans', sans-serif" font-size="13.9" font-weight="normal" text-anchor="start" fill="#1e1e1e">PCYT1A</text>
<text x="132.1" y="675.8" font-family="'Liberation Sans', sans-serif" font-size="17.1" font-weight="bold" text-anchor="start" fill="#1a1a1a">Group 5</text>
<text x="17.8" y="673.3" font-family="'Liberation Serif', serif" font-size="27.5" font-weight="bold" text-anchor="start" fill="#000">(E)</text>
</svg>
</body></html>
